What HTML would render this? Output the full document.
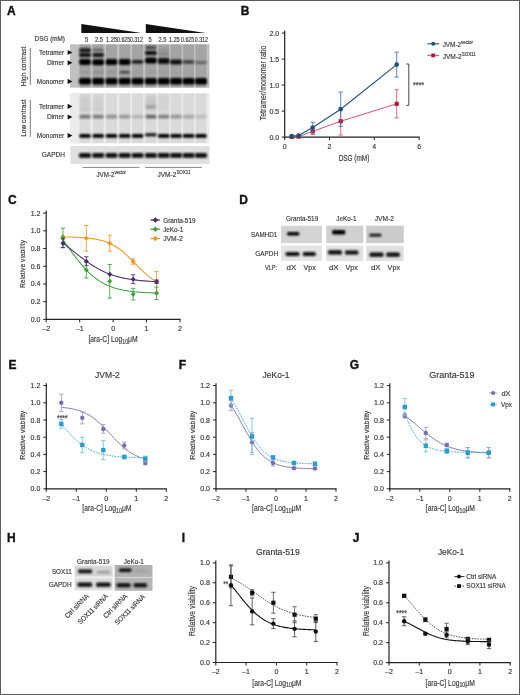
<!DOCTYPE html><html><head><meta charset="utf-8"><style>html,body{margin:0;padding:0;background:#fff;}text{stroke:#3a3a3a;stroke-width:0.16px;} svg{display:block;filter:blur(0.35px);font-family:"Liberation Sans",sans-serif;}</style></head><body><svg width="520" height="695" viewBox="0 0 520 695" font-family="Liberation Sans, sans-serif">
<defs><filter id="b" x="-30%" y="-80%" width="160%" height="260%"><feGaussianBlur stdDeviation="1.0"/></filter><filter id="b3" x="-30%" y="-10%" width="160%" height="120%"><feGaussianBlur stdDeviation="0.5"/></filter><filter id="b2" x="-30%" y="-80%" width="160%" height="260%"><feGaussianBlur stdDeviation="1.4"/></filter></defs>
<rect x="0.00" y="0.00" width="520.00" height="695.00" fill="#fff" />
<text x="6.90" y="14.60" font-size="12" font-weight="bold" fill="#111" style="stroke:#111;stroke-width:0.35px">A</text>
<text x="240.80" y="14.60" font-size="12" font-weight="bold" fill="#111" style="stroke:#111;stroke-width:0.35px">B</text>
<text x="8.10" y="203.80" font-size="12" font-weight="bold" fill="#111" style="stroke:#111;stroke-width:0.35px">C</text>
<text x="239.20" y="203.80" font-size="12" font-weight="bold" fill="#111" style="stroke:#111;stroke-width:0.35px">D</text>
<text x="8.50" y="368.80" font-size="12" font-weight="bold" fill="#111" style="stroke:#111;stroke-width:0.35px">E</text>
<text x="178.80" y="368.80" font-size="12" font-weight="bold" fill="#111" style="stroke:#111;stroke-width:0.35px">F</text>
<text x="349.80" y="368.80" font-size="12" font-weight="bold" fill="#111" style="stroke:#111;stroke-width:0.35px">G</text>
<text x="7.00" y="542.00" font-size="12" font-weight="bold" fill="#111" style="stroke:#111;stroke-width:0.35px">H</text>
<text x="181.80" y="541.80" font-size="12" font-weight="bold" fill="#111" style="stroke:#111;stroke-width:0.35px">I</text>
<text x="352.70" y="541.80" font-size="12" font-weight="bold" fill="#111" style="stroke:#111;stroke-width:0.35px">J</text>
<path d="M81.3,24 L81.3,33 L141.5,33 Z" fill="#111"/>
<path d="M145.8,24 L145.8,33 L205.7,33 Z" fill="#111"/>
<text x="34.60" y="40.90" font-size="7" fill="#383838" textLength="30.40" lengthAdjust="spacingAndGlyphs" >DSG (mM)</text>
<text x="86.60" y="41.60" font-size="6.3" fill="#383838" text-anchor="middle" textLength="3.20" lengthAdjust="spacingAndGlyphs" >5</text>
<text x="98.90" y="41.60" font-size="6.3" fill="#383838" text-anchor="middle" textLength="8.00" lengthAdjust="spacingAndGlyphs" >2.5</text>
<text x="111.60" y="41.60" font-size="6.3" fill="#383838" text-anchor="middle" textLength="11.00" lengthAdjust="spacingAndGlyphs" >1.25</text>
<text x="123.60" y="41.60" font-size="6.3" fill="#383838" text-anchor="middle" textLength="13.00" lengthAdjust="spacingAndGlyphs" >0.625</text>
<text x="136.40" y="41.60" font-size="6.3" fill="#383838" text-anchor="middle" textLength="13.00" lengthAdjust="spacingAndGlyphs" >0.312</text>
<text x="150.10" y="41.60" font-size="6.3" fill="#383838" text-anchor="middle" textLength="3.20" lengthAdjust="spacingAndGlyphs" >5</text>
<text x="162.40" y="41.60" font-size="6.3" fill="#383838" text-anchor="middle" textLength="8.00" lengthAdjust="spacingAndGlyphs" >2.5</text>
<text x="174.20" y="41.60" font-size="6.3" fill="#383838" text-anchor="middle" textLength="11.00" lengthAdjust="spacingAndGlyphs" >1.25</text>
<text x="187.60" y="41.60" font-size="6.3" fill="#383838" text-anchor="middle" textLength="13.00" lengthAdjust="spacingAndGlyphs" >0.625</text>
<text x="201.30" y="41.60" font-size="6.3" fill="#383838" text-anchor="middle" textLength="13.00" lengthAdjust="spacingAndGlyphs" >0.312</text>
<rect x="70.00" y="44.20" width="139.50" height="43.40" fill="#c0c0c0" />
<rect x="79.60" y="44.60" width="10.80" height="42.80" fill="#a4a4a4" filter="url(#b3)"/>
<rect x="92.80" y="44.60" width="10.80" height="42.80" fill="#a4a4a4" filter="url(#b3)"/>
<rect x="106.10" y="44.60" width="10.80" height="42.80" fill="#a4a4a4" filter="url(#b3)"/>
<rect x="119.30" y="44.60" width="10.80" height="42.80" fill="#a4a4a4" filter="url(#b3)"/>
<rect x="132.20" y="44.60" width="10.80" height="42.80" fill="#a4a4a4" filter="url(#b3)"/>
<rect x="145.50" y="44.60" width="10.80" height="42.80" fill="#a4a4a4" filter="url(#b3)"/>
<rect x="158.30" y="44.60" width="10.80" height="42.80" fill="#a4a4a4" filter="url(#b3)"/>
<rect x="170.70" y="44.60" width="10.80" height="42.80" fill="#a4a4a4" filter="url(#b3)"/>
<rect x="183.20" y="44.60" width="10.80" height="42.80" fill="#a4a4a4" filter="url(#b3)"/>
<rect x="195.60" y="44.60" width="10.80" height="42.80" fill="#a4a4a4" filter="url(#b3)"/>
<rect x="79.00" y="78.00" width="12.00" height="6.60" rx="2.00" fill="#050505" filter="url(#b)"/>
<rect x="92.20" y="78.00" width="12.00" height="6.60" rx="2.00" fill="#050505" filter="url(#b)"/>
<rect x="105.50" y="78.00" width="12.00" height="6.60" rx="2.00" fill="#050505" filter="url(#b)"/>
<rect x="118.70" y="78.00" width="12.00" height="6.60" rx="2.00" fill="#050505" filter="url(#b)"/>
<rect x="131.60" y="78.00" width="12.00" height="6.60" rx="2.00" fill="#050505" filter="url(#b)"/>
<rect x="144.90" y="78.00" width="12.00" height="6.60" rx="2.00" fill="#050505" filter="url(#b)"/>
<rect x="157.70" y="78.00" width="12.00" height="6.60" rx="2.00" fill="#050505" filter="url(#b)"/>
<rect x="170.10" y="78.00" width="12.00" height="6.60" rx="2.00" fill="#050505" filter="url(#b)"/>
<rect x="182.60" y="78.00" width="12.00" height="6.60" rx="2.00" fill="#050505" filter="url(#b)"/>
<rect x="195.00" y="78.00" width="12.00" height="6.60" rx="2.00" fill="#050505" filter="url(#b)"/>
<rect x="79.20" y="59.00" width="11.60" height="6.00" rx="2.00" fill="#060606" filter="url(#b)"/>
<rect x="92.40" y="59.20" width="11.60" height="6.00" rx="2.00" fill="#060606" filter="url(#b)"/>
<rect x="105.70" y="59.00" width="11.60" height="6.00" rx="2.00" fill="#060606" filter="url(#b)"/>
<rect x="118.90" y="59.00" width="11.60" height="6.00" rx="2.00" fill="#050505" filter="url(#b)"/>
<rect x="131.80" y="59.90" width="11.60" height="3.80" rx="2.00" fill="#1c1c1c" filter="url(#b)"/>
<rect x="145.10" y="57.60" width="11.60" height="6.00" rx="2.00" fill="#050505" filter="url(#b)"/>
<rect x="157.90" y="58.10" width="11.60" height="5.80" rx="2.00" fill="#080808" filter="url(#b)"/>
<rect x="170.30" y="59.50" width="11.60" height="5.00" rx="2.00" fill="#101010" filter="url(#b)"/>
<rect x="182.80" y="60.30" width="11.60" height="3.40" rx="2.00" fill="#3a3a3a" filter="url(#b)"/>
<rect x="195.20" y="61.10" width="11.60" height="2.80" rx="2.00" fill="#666" filter="url(#b)"/>
<rect x="79.40" y="48.20" width="11.20" height="4.20" rx="1.20" fill="#121212" filter="url(#b)"/>
<rect x="79.30" y="52.90" width="11.40" height="4.20" rx="1.20" fill="#0a0a0a" filter="url(#b)"/>
<rect x="92.95" y="48.50" width="10.50" height="3.00" rx="1.20" fill="#666" filter="url(#b)"/>
<rect x="92.60" y="53.00" width="11.20" height="4.00" rx="1.50" fill="#121212" filter="url(#b)"/>
<rect x="145.50" y="46.00" width="10.80" height="3.20" rx="1.20" fill="#4a4a4a" filter="url(#b)"/>
<rect x="145.20" y="51.00" width="11.40" height="4.00" rx="1.20" fill="#0a0a0a" filter="url(#b)"/>
<rect x="158.70" y="48.50" width="10.00" height="3.00" rx="1.50" fill="#909090" filter="url(#b)"/>
<rect x="158.45" y="52.50" width="10.50" height="3.00" rx="1.50" fill="#808080" filter="url(#b)"/>
<rect x="80.00" y="71.00" width="10.00" height="2.40" rx="1.20" fill="#969696" filter="url(#b)"/>
<rect x="93.20" y="71.00" width="10.00" height="2.40" rx="1.20" fill="#8a8a8a" filter="url(#b)"/>
<rect x="106.50" y="71.00" width="10.00" height="2.40" rx="1.20" fill="#939393" filter="url(#b)"/>
<rect x="119.70" y="71.00" width="10.00" height="2.40" rx="1.20" fill="#404040" filter="url(#b)"/>
<rect x="132.60" y="71.00" width="10.00" height="2.40" rx="1.20" fill="#9d9d9d" filter="url(#b)"/>
<rect x="145.90" y="71.00" width="10.00" height="2.40" rx="1.20" fill="#9a9a9a" filter="url(#b)"/>
<rect x="158.70" y="71.00" width="10.00" height="2.40" rx="1.20" fill="#9d9d9d" filter="url(#b)"/>
<rect x="171.10" y="71.00" width="10.00" height="2.40" rx="1.20" fill="#a0a0a0" filter="url(#b)"/>
<path d="M67.6,49.90 L72.4,52.50 L67.6,55.10 Z" fill="#111"/>
<text x="64.20" y="54.60" font-size="7" fill="#383838" text-anchor="end" textLength="25.20" lengthAdjust="spacingAndGlyphs" >Tetramer</text>
<path d="M67.6,60.20 L72.4,62.80 L67.6,65.40 Z" fill="#111"/>
<text x="64.20" y="64.90" font-size="7" fill="#383838" text-anchor="end" textLength="17.30" lengthAdjust="spacingAndGlyphs" >Dimer</text>
<path d="M67.6,78.80 L72.4,81.40 L67.6,84.00 Z" fill="#111"/>
<text x="64.20" y="83.50" font-size="7" fill="#383838" text-anchor="end" textLength="27.40" lengthAdjust="spacingAndGlyphs" >Monomer</text>
<line x1="30.30" y1="48.00" x2="30.30" y2="84.80" stroke="#555" stroke-width="0.8" />
<text transform="translate(25.94,66.40) rotate(-90)" x="0" y="0" font-size="7.6" fill="#383838" text-anchor="middle" textLength="39.7" lengthAdjust="spacingAndGlyphs">High contrast</text>
<rect x="70.00" y="93.00" width="139.50" height="50.50" fill="#ebebeb" />
<rect x="79.60" y="93.60" width="10.80" height="49.30" fill="#dadada" filter="url(#b3)"/>
<rect x="92.80" y="93.60" width="10.80" height="49.30" fill="#dadada" filter="url(#b3)"/>
<rect x="106.10" y="93.60" width="10.80" height="49.30" fill="#dadada" filter="url(#b3)"/>
<rect x="119.30" y="93.60" width="10.80" height="49.30" fill="#dadada" filter="url(#b3)"/>
<rect x="132.20" y="93.60" width="10.80" height="49.30" fill="#dadada" filter="url(#b3)"/>
<rect x="145.50" y="93.60" width="10.80" height="49.30" fill="#dadada" filter="url(#b3)"/>
<rect x="158.30" y="93.60" width="10.80" height="49.30" fill="#dadada" filter="url(#b3)"/>
<rect x="170.70" y="93.60" width="10.80" height="49.30" fill="#dadada" filter="url(#b3)"/>
<rect x="183.20" y="93.60" width="10.80" height="49.30" fill="#dadada" filter="url(#b3)"/>
<rect x="195.60" y="93.60" width="10.80" height="49.30" fill="#dadada" filter="url(#b3)"/>
<rect x="79.30" y="133.90" width="11.40" height="3.80" rx="1.50" fill="#060606" filter="url(#b)"/>
<rect x="92.50" y="133.90" width="11.40" height="3.80" rx="1.50" fill="#060606" filter="url(#b)"/>
<rect x="105.80" y="133.90" width="11.40" height="3.80" rx="1.50" fill="#060606" filter="url(#b)"/>
<rect x="119.00" y="133.90" width="11.40" height="3.80" rx="1.50" fill="#060606" filter="url(#b)"/>
<rect x="131.90" y="133.90" width="11.40" height="3.80" rx="1.50" fill="#060606" filter="url(#b)"/>
<rect x="145.20" y="133.30" width="11.40" height="3.00" rx="1.20" fill="#0a0a0a" filter="url(#b)"/>
<rect x="158.00" y="133.90" width="11.40" height="3.80" rx="1.50" fill="#060606" filter="url(#b)"/>
<rect x="170.40" y="133.90" width="11.40" height="3.80" rx="1.50" fill="#060606" filter="url(#b)"/>
<rect x="182.90" y="133.90" width="11.40" height="3.80" rx="1.50" fill="#060606" filter="url(#b)"/>
<rect x="195.30" y="133.90" width="11.40" height="3.80" rx="1.50" fill="#060606" filter="url(#b)"/>
<rect x="79.50" y="114.70" width="11.00" height="3.80" rx="1.50" fill="#767676" filter="url(#b)"/>
<rect x="92.70" y="114.70" width="11.00" height="3.80" rx="1.50" fill="#7a7a7a" filter="url(#b)"/>
<rect x="106.00" y="114.70" width="11.00" height="3.80" rx="1.50" fill="#929292" filter="url(#b)"/>
<rect x="119.20" y="114.70" width="11.00" height="3.80" rx="1.50" fill="#959595" filter="url(#b)"/>
<rect x="132.10" y="114.70" width="11.00" height="3.80" rx="1.50" fill="#b4b4b4" filter="url(#b)"/>
<rect x="145.40" y="114.70" width="11.00" height="3.80" rx="1.50" fill="#666666" filter="url(#b)"/>
<rect x="158.20" y="114.70" width="11.00" height="3.80" rx="1.50" fill="#7e7e7e" filter="url(#b)"/>
<rect x="170.60" y="114.70" width="11.00" height="3.80" rx="1.50" fill="#969696" filter="url(#b)"/>
<rect x="183.10" y="114.70" width="11.00" height="3.80" rx="1.50" fill="#a6a6a6" filter="url(#b)"/>
<rect x="195.50" y="114.70" width="11.00" height="3.80" rx="1.50" fill="#bdbdbd" filter="url(#b)"/>
<rect x="80.00" y="96" width="10" height="15" fill="#cdcdcd" filter="url(#b2)"/>
<rect x="93.20" y="96" width="10" height="15" fill="#d0d0d0" filter="url(#b2)"/>
<rect x="145.90" y="96" width="10" height="15" fill="#c8c8c8" filter="url(#b2)"/>
<rect x="158.70" y="96" width="10" height="15" fill="#d2d2d2" filter="url(#b2)"/>
<rect x="145.50" y="105.30" width="10.80" height="3.00" rx="1.50" fill="#9c9c9c" filter="url(#b)"/>
<rect x="145.90" y="101.40" width="10.00" height="2.20" rx="1.10" fill="#c4c4c4" filter="url(#b)"/>
<rect x="80.00" y="108.40" width="10.00" height="2.20" rx="1.10" fill="#c4c4c4" filter="url(#b)"/>
<rect x="93.20" y="108.40" width="10.00" height="2.20" rx="1.10" fill="#c8c8c8" filter="url(#b)"/>
<path d="M67.6,103.80 L72.4,106.40 L67.6,109.00 Z" fill="#111"/>
<text x="64.20" y="108.50" font-size="7" fill="#383838" text-anchor="end" textLength="25.20" lengthAdjust="spacingAndGlyphs" >Tetramer</text>
<path d="M67.6,114.40 L72.4,117.00 L67.6,119.60 Z" fill="#111"/>
<text x="64.20" y="119.10" font-size="7" fill="#383838" text-anchor="end" textLength="17.30" lengthAdjust="spacingAndGlyphs" >Dimer</text>
<path d="M67.6,133.00 L72.4,135.60 L67.6,138.20 Z" fill="#111"/>
<text x="64.20" y="137.70" font-size="7" fill="#383838" text-anchor="end" textLength="27.40" lengthAdjust="spacingAndGlyphs" >Monomer</text>
<line x1="30.30" y1="99.80" x2="30.30" y2="136.90" stroke="#555" stroke-width="0.8" />
<text transform="translate(25.94,118.10) rotate(-90)" x="0" y="0" font-size="7.6" fill="#383838" text-anchor="middle" textLength="37.5" lengthAdjust="spacingAndGlyphs">Low contrast</text>
<rect x="70.40" y="146.00" width="139.10" height="18.00" fill="#e0e0e0" />
<rect x="79.10" y="153.00" width="11.80" height="4.80" rx="1.50" fill="#070707" filter="url(#b)"/>
<rect x="92.30" y="153.00" width="11.80" height="4.80" rx="1.50" fill="#070707" filter="url(#b)"/>
<rect x="105.60" y="153.00" width="11.80" height="4.80" rx="1.50" fill="#070707" filter="url(#b)"/>
<rect x="118.80" y="153.00" width="11.80" height="4.80" rx="1.50" fill="#070707" filter="url(#b)"/>
<rect x="131.70" y="153.00" width="11.80" height="4.80" rx="1.50" fill="#070707" filter="url(#b)"/>
<rect x="145.00" y="153.00" width="11.80" height="4.80" rx="1.50" fill="#070707" filter="url(#b)"/>
<rect x="157.80" y="153.00" width="11.80" height="4.80" rx="1.50" fill="#070707" filter="url(#b)"/>
<rect x="170.20" y="153.00" width="11.80" height="4.80" rx="1.50" fill="#070707" filter="url(#b)"/>
<rect x="182.70" y="153.00" width="11.80" height="4.80" rx="1.50" fill="#070707" filter="url(#b)"/>
<rect x="195.10" y="153.00" width="11.80" height="4.80" rx="1.50" fill="#070707" filter="url(#b)"/>
<text x="41.80" y="156.80" font-size="7" fill="#383838" textLength="23.20" lengthAdjust="spacingAndGlyphs" >GAPDH</text>
<line x1="82.40" y1="167.40" x2="139.60" y2="167.40" stroke="#555" stroke-width="0.7" />
<line x1="145.10" y1="167.40" x2="201.90" y2="167.40" stroke="#555" stroke-width="0.7" />
<text x="96.5" y="177" font-size="7" fill="#383838" textLength="29.5" lengthAdjust="spacingAndGlyphs">JVM-2<tspan font-size="4.8" dy="-2.8">vector</tspan></text>
<text x="157.5" y="177" font-size="7" fill="#383838" textLength="33" lengthAdjust="spacingAndGlyphs">JVM-2<tspan font-size="4.8" dy="-2.8">SOX11</tspan></text>
<line x1="284.70" y1="30.80" x2="284.70" y2="137.70" stroke="#222" stroke-width="1.2" />
<line x1="284.10" y1="137.10" x2="419.70" y2="137.10" stroke="#222" stroke-width="1.2" />
<line x1="281.70" y1="137.10" x2="284.70" y2="137.10" stroke="#222" stroke-width="1" />
<text x="279.20" y="139.60" font-size="7" fill="#383838" text-anchor="end" >0.0</text>
<line x1="281.70" y1="111.10" x2="284.70" y2="111.10" stroke="#222" stroke-width="1" />
<text x="279.20" y="113.60" font-size="7" fill="#383838" text-anchor="end" >0.5</text>
<line x1="281.70" y1="85.10" x2="284.70" y2="85.10" stroke="#222" stroke-width="1" />
<text x="279.20" y="87.60" font-size="7" fill="#383838" text-anchor="end" >1.0</text>
<line x1="281.70" y1="59.10" x2="284.70" y2="59.10" stroke="#222" stroke-width="1" />
<text x="279.20" y="61.60" font-size="7" fill="#383838" text-anchor="end" >1.5</text>
<line x1="281.70" y1="33.10" x2="284.70" y2="33.10" stroke="#222" stroke-width="1" />
<text x="279.20" y="35.60" font-size="7" fill="#383838" text-anchor="end" >2.0</text>
<line x1="284.70" y1="137.10" x2="284.70" y2="140.10" stroke="#222" stroke-width="1" />
<text x="284.70" y="149.30" font-size="7" fill="#383838" text-anchor="middle" >0</text>
<line x1="329.50" y1="137.10" x2="329.50" y2="140.10" stroke="#222" stroke-width="1" />
<text x="329.50" y="149.30" font-size="7" fill="#383838" text-anchor="middle" >2</text>
<line x1="374.30" y1="137.10" x2="374.30" y2="140.10" stroke="#222" stroke-width="1" />
<text x="374.30" y="149.30" font-size="7" fill="#383838" text-anchor="middle" >4</text>
<line x1="419.10" y1="137.10" x2="419.10" y2="140.10" stroke="#222" stroke-width="1" />
<text x="419.10" y="149.30" font-size="7" fill="#383838" text-anchor="middle" >6</text>
<text transform="translate(265.85,83.00) rotate(-90)" x="0" y="0" font-size="8.2" fill="#383838" text-anchor="middle" textLength="74.5" lengthAdjust="spacingAndGlyphs">Tetramer/monomer ratio</text>
<text x="354.00" y="160.60" font-size="8.2" fill="#383838" text-anchor="middle" textLength="30.70" lengthAdjust="spacingAndGlyphs" >DSG (mM)</text>
<polyline points="291.70,136.84 298.70,136.58 312.70,131.38 340.70,121.24 396.70,103.82" fill="none" stroke="#d9536f" stroke-width="1"/>
<polyline points="291.70,136.06 298.70,135.54 312.70,127.48 340.70,109.18 396.70,64.61" fill="none" stroke="#1f4f82" stroke-width="1.1"/>
<rect x="289.60" y="134.74" width="4.20" height="4.20" fill="#b5173c"/>
<rect x="296.60" y="134.48" width="4.20" height="4.20" fill="#b5173c"/>
<line x1="312.70" y1="128.26" x2="312.70" y2="134.50" stroke="#d9536f" stroke-width="0.85" />
<line x1="310.50" y1="128.26" x2="314.90" y2="128.26" stroke="#d9536f" stroke-width="0.85" />
<line x1="310.50" y1="134.50" x2="314.90" y2="134.50" stroke="#d9536f" stroke-width="0.85" />
<rect x="310.60" y="129.28" width="4.20" height="4.20" fill="#b5173c"/>
<line x1="340.70" y1="107.46" x2="340.70" y2="135.02" stroke="#d9536f" stroke-width="0.85" />
<line x1="338.50" y1="107.46" x2="342.90" y2="107.46" stroke="#d9536f" stroke-width="0.85" />
<line x1="338.50" y1="135.02" x2="342.90" y2="135.02" stroke="#d9536f" stroke-width="0.85" />
<rect x="338.60" y="119.14" width="4.20" height="4.20" fill="#b5173c"/>
<line x1="396.70" y1="89.78" x2="396.70" y2="117.86" stroke="#d9536f" stroke-width="0.85" />
<line x1="394.50" y1="89.78" x2="398.90" y2="89.78" stroke="#d9536f" stroke-width="0.85" />
<line x1="394.50" y1="117.86" x2="398.90" y2="117.86" stroke="#d9536f" stroke-width="0.85" />
<rect x="394.60" y="101.72" width="4.20" height="4.20" fill="#b5173c"/>
<circle cx="291.70" cy="136.06" r="2.3" fill="#1f4f82"/>
<circle cx="298.70" cy="135.54" r="2.3" fill="#1f4f82"/>
<line x1="312.70" y1="122.28" x2="312.70" y2="132.68" stroke="#4a74a0" stroke-width="0.85" />
<line x1="310.50" y1="122.28" x2="314.90" y2="122.28" stroke="#4a74a0" stroke-width="0.85" />
<line x1="310.50" y1="132.68" x2="314.90" y2="132.68" stroke="#4a74a0" stroke-width="0.85" />
<circle cx="312.70" cy="127.48" r="2.3" fill="#1f4f82"/>
<line x1="340.70" y1="92.02" x2="340.70" y2="126.34" stroke="#4a74a0" stroke-width="0.85" />
<line x1="338.50" y1="92.02" x2="342.90" y2="92.02" stroke="#4a74a0" stroke-width="0.85" />
<line x1="338.50" y1="126.34" x2="342.90" y2="126.34" stroke="#4a74a0" stroke-width="0.85" />
<circle cx="340.70" cy="109.18" r="2.3" fill="#1f4f82"/>
<line x1="396.70" y1="52.13" x2="396.70" y2="77.09" stroke="#4a74a0" stroke-width="0.85" />
<line x1="394.50" y1="52.13" x2="398.90" y2="52.13" stroke="#4a74a0" stroke-width="0.85" />
<line x1="394.50" y1="77.09" x2="398.90" y2="77.09" stroke="#4a74a0" stroke-width="0.85" />
<circle cx="396.70" cy="64.61" r="2.3" fill="#1f4f82"/>
<path d="M406.3,64 L408.8,64 L408.8,105.4 L406.3,105.4" fill="none" stroke="#333" stroke-width="0.9"/>
<text x="413.00" y="88.40" font-size="9.5" fill="#383838" textLength="11.00" lengthAdjust="spacingAndGlyphs" >****</text>
<line x1="427.30" y1="43.80" x2="439.20" y2="43.80" stroke="#1f4f82" stroke-width="1.1" />
<circle cx="433.20" cy="43.80" r="2" fill="#1f4f82"/>
<line x1="427.30" y1="55.40" x2="439.20" y2="55.40" stroke="#d9536f" stroke-width="1.1" />
<rect x="431.30" y="53.50" width="3.80" height="3.80" fill="#b5173c"/>
<text x="442.7" y="46.9" font-size="7" fill="#383838" textLength="30.2" lengthAdjust="spacingAndGlyphs">JVM-2<tspan font-size="4.8" dy="-2.8">vector</tspan></text>
<text x="442.7" y="58.5" font-size="7" fill="#383838" textLength="33.1" lengthAdjust="spacingAndGlyphs">JVM-2<tspan font-size="4.8" dy="-2.8">SOX11</tspan></text>
<line x1="46.20" y1="210.78" x2="46.20" y2="320.00" stroke="#222" stroke-width="1.2" />
<line x1="45.60" y1="319.40" x2="180.60" y2="319.40" stroke="#222" stroke-width="1.2" />
<line x1="43.20" y1="319.40" x2="46.20" y2="319.40" stroke="#222" stroke-width="1" />
<text x="40.40" y="321.90" font-size="7" fill="#383838" text-anchor="end" >0.0</text>
<line x1="43.20" y1="301.68" x2="46.20" y2="301.68" stroke="#222" stroke-width="1" />
<text x="40.40" y="304.18" font-size="7" fill="#383838" text-anchor="end" >0.2</text>
<line x1="43.20" y1="283.96" x2="46.20" y2="283.96" stroke="#222" stroke-width="1" />
<text x="40.40" y="286.46" font-size="7" fill="#383838" text-anchor="end" >0.4</text>
<line x1="43.20" y1="266.24" x2="46.20" y2="266.24" stroke="#222" stroke-width="1" />
<text x="40.40" y="268.74" font-size="7" fill="#383838" text-anchor="end" >0.6</text>
<line x1="43.20" y1="248.52" x2="46.20" y2="248.52" stroke="#222" stroke-width="1" />
<text x="40.40" y="251.02" font-size="7" fill="#383838" text-anchor="end" >0.8</text>
<line x1="43.20" y1="230.80" x2="46.20" y2="230.80" stroke="#222" stroke-width="1" />
<text x="40.40" y="233.30" font-size="7" fill="#383838" text-anchor="end" >1.0</text>
<line x1="43.20" y1="213.08" x2="46.20" y2="213.08" stroke="#222" stroke-width="1" />
<text x="40.40" y="215.58" font-size="7" fill="#383838" text-anchor="end" >1.2</text>
<line x1="46.20" y1="319.40" x2="46.20" y2="322.40" stroke="#222" stroke-width="1" />
<text x="46.20" y="331.30" font-size="7" fill="#383838" text-anchor="middle" >–2</text>
<line x1="79.65" y1="319.40" x2="79.65" y2="322.40" stroke="#222" stroke-width="1" />
<text x="79.65" y="331.30" font-size="7" fill="#383838" text-anchor="middle" >–1</text>
<line x1="113.10" y1="319.40" x2="113.10" y2="322.40" stroke="#222" stroke-width="1" />
<text x="113.10" y="331.30" font-size="7" fill="#383838" text-anchor="middle" >0</text>
<line x1="146.55" y1="319.40" x2="146.55" y2="322.40" stroke="#222" stroke-width="1" />
<text x="146.55" y="331.30" font-size="7" fill="#383838" text-anchor="middle" >1</text>
<line x1="180.00" y1="319.40" x2="180.00" y2="322.40" stroke="#222" stroke-width="1" />
<text x="180.00" y="331.30" font-size="7" fill="#383838" text-anchor="middle" >2</text>
<text transform="translate(25.17,264.00) rotate(-90)" x="0" y="0" font-size="7.7" fill="#383838" text-anchor="middle" textLength="48" lengthAdjust="spacingAndGlyphs">Relative viability</text>
<text x="113.00" y="342.20" font-size="8.3" fill="#383838" text-anchor="middle" textLength="49.2" lengthAdjust="spacingAndGlyphs">[ara-C] Log<tspan font-size="6.47" dy="1.6">10</tspan><tspan dy="-1.6">μM</tspan></text>
<polyline points="62.93,236.85 64.49,236.88 66.05,236.91 67.61,236.95 69.17,236.99 70.73,237.03 72.29,237.08 73.85,237.13 75.41,237.19 76.97,237.26 78.54,237.34 80.10,237.43 81.66,237.53 83.22,237.64 84.78,237.76 86.34,237.90 87.90,238.05 89.46,238.23 91.02,238.42 92.58,238.64 94.15,238.88 95.71,239.15 97.27,239.45 98.83,239.79 100.39,240.16 101.95,240.58 103.51,241.03 105.07,241.54 106.63,242.10 108.19,242.71 109.75,243.38 111.32,244.12 112.88,244.92 114.44,245.79 116.00,246.73 117.56,247.74 119.12,248.83 120.68,249.99 122.24,251.22 123.80,252.52 125.37,253.89 126.93,255.32 128.49,256.80 130.05,258.32 131.61,259.88 133.17,261.47 134.73,263.07 136.29,264.68 137.85,266.28 139.41,267.86 140.98,269.41 142.54,270.92 144.10,272.39 145.66,273.80 147.22,275.14 148.78,276.42 150.34,277.63 151.90,278.77 153.46,279.83 155.02,280.82 156.59,281.74" fill="none" stroke="#f0962a" stroke-width="1.05"/>
<polyline points="62.93,239.66 64.49,241.83 66.05,244.01 67.61,246.20 69.17,248.39 70.73,250.57 72.29,252.72 73.85,254.85 75.41,256.94 76.97,258.99 78.54,260.99 80.10,262.93 81.66,264.80 83.22,266.61 84.78,268.35 86.34,270.01 87.90,271.60 89.46,273.11 91.02,274.55 92.58,275.90 94.15,277.18 95.71,278.39 97.27,279.52 98.83,280.58 100.39,281.58 101.95,282.50 103.51,283.37 105.07,284.17 106.63,284.92 108.19,285.61 109.75,286.25 111.32,286.85 112.88,287.39 114.44,287.90 116.00,288.37 117.56,288.80 119.12,289.20 120.68,289.56 122.24,289.90 123.80,290.20 125.37,290.49 126.93,290.75 128.49,290.98 130.05,291.20 131.61,291.40 133.17,291.59 134.73,291.75 136.29,291.91 137.85,292.05 139.41,292.18 140.98,292.29 142.54,292.40 144.10,292.50 145.66,292.59 147.22,292.67 148.78,292.75 150.34,292.82 151.90,292.88 153.46,292.94 155.02,292.99 156.59,293.04" fill="none" stroke="#3f9f3f" stroke-width="1.05"/>
<polyline points="62.93,243.20 64.49,244.35 66.05,245.53 67.61,246.73 69.17,247.94 70.73,249.17 72.29,250.40 73.85,251.64 75.41,252.88 76.97,254.11 78.54,255.34 80.10,256.55 81.66,257.75 83.22,258.93 84.78,260.09 86.34,261.23 87.90,262.33 89.46,263.41 91.02,264.45 92.58,265.46 94.15,266.43 95.71,267.37 97.27,268.27 98.83,269.13 100.39,269.95 101.95,270.74 103.51,271.48 105.07,272.19 106.63,272.86 108.19,273.50 109.75,274.10 111.32,274.67 112.88,275.20 114.44,275.70 116.00,276.17 117.56,276.62 119.12,277.03 120.68,277.42 122.24,277.78 123.80,278.12 125.37,278.43 126.93,278.73 128.49,279.00 130.05,279.26 131.61,279.50 133.17,279.72 134.73,279.93 136.29,280.12 137.85,280.29 139.41,280.46 140.98,280.61 142.54,280.75 144.10,280.88 145.66,281.01 147.22,281.12 148.78,281.22 150.34,281.32 151.90,281.41 153.46,281.49 155.02,281.57 156.59,281.64" fill="none" stroke="#4a2a6a" stroke-width="1.05"/>
<line x1="86.34" y1="225.48" x2="86.34" y2="251.18" stroke="#f0962a" stroke-width="0.85" />
<line x1="84.14" y1="225.48" x2="88.54" y2="225.48" stroke="#f0962a" stroke-width="0.85" />
<line x1="84.14" y1="251.18" x2="88.54" y2="251.18" stroke="#f0962a" stroke-width="0.85" />
<line x1="109.75" y1="235.23" x2="109.75" y2="251.18" stroke="#f0962a" stroke-width="0.85" />
<line x1="107.55" y1="235.23" x2="111.95" y2="235.23" stroke="#f0962a" stroke-width="0.85" />
<line x1="107.55" y1="251.18" x2="111.95" y2="251.18" stroke="#f0962a" stroke-width="0.85" />
<line x1="133.17" y1="258.89" x2="133.17" y2="264.20" stroke="#f0962a" stroke-width="0.85" />
<line x1="130.97" y1="258.89" x2="135.37" y2="258.89" stroke="#f0962a" stroke-width="0.85" />
<line x1="130.97" y1="264.20" x2="135.37" y2="264.20" stroke="#f0962a" stroke-width="0.85" />
<line x1="156.59" y1="271.56" x2="156.59" y2="291.93" stroke="#f0962a" stroke-width="0.85" />
<line x1="154.39" y1="271.56" x2="158.78" y2="271.56" stroke="#f0962a" stroke-width="0.85" />
<line x1="154.39" y1="291.93" x2="158.78" y2="291.93" stroke="#f0962a" stroke-width="0.85" />
<path d="M62.93,234.06 L65.43,236.56 L62.93,239.06 L60.43,236.56Z" fill="#f0962a"/>
<path d="M86.34,235.83 L88.84,238.33 L86.34,240.83 L83.84,238.33Z" fill="#f0962a"/>
<path d="M109.75,240.70 L112.25,243.20 L109.75,245.70 L107.25,243.20Z" fill="#f0962a"/>
<path d="M133.17,259.04 L135.67,261.54 L133.17,264.04 L130.67,261.54Z" fill="#f0962a"/>
<path d="M156.59,279.25 L159.09,281.75 L156.59,284.25 L154.09,281.75Z" fill="#f0962a"/>
<line x1="62.93" y1="228.14" x2="62.93" y2="247.63" stroke="#3f9f3f" stroke-width="0.85" />
<line x1="60.73" y1="228.14" x2="65.12" y2="228.14" stroke="#3f9f3f" stroke-width="0.85" />
<line x1="60.73" y1="247.63" x2="65.12" y2="247.63" stroke="#3f9f3f" stroke-width="0.85" />
<line x1="86.34" y1="262.08" x2="86.34" y2="278.02" stroke="#3f9f3f" stroke-width="0.85" />
<line x1="84.14" y1="262.08" x2="88.54" y2="262.08" stroke="#3f9f3f" stroke-width="0.85" />
<line x1="84.14" y1="278.02" x2="88.54" y2="278.02" stroke="#3f9f3f" stroke-width="0.85" />
<line x1="109.75" y1="264.47" x2="109.75" y2="298.14" stroke="#3f9f3f" stroke-width="0.85" />
<line x1="107.55" y1="264.47" x2="111.95" y2="264.47" stroke="#3f9f3f" stroke-width="0.85" />
<line x1="107.55" y1="298.14" x2="111.95" y2="298.14" stroke="#3f9f3f" stroke-width="0.85" />
<line x1="133.17" y1="288.39" x2="133.17" y2="299.91" stroke="#3f9f3f" stroke-width="0.85" />
<line x1="130.97" y1="288.39" x2="135.37" y2="288.39" stroke="#3f9f3f" stroke-width="0.85" />
<line x1="130.97" y1="299.91" x2="135.37" y2="299.91" stroke="#3f9f3f" stroke-width="0.85" />
<line x1="156.59" y1="287.06" x2="156.59" y2="299.46" stroke="#3f9f3f" stroke-width="0.85" />
<line x1="154.39" y1="287.06" x2="158.78" y2="287.06" stroke="#3f9f3f" stroke-width="0.85" />
<line x1="154.39" y1="299.46" x2="158.78" y2="299.46" stroke="#3f9f3f" stroke-width="0.85" />
<path d="M62.93,235.39 L65.43,237.89 L62.93,240.39 L60.43,237.89Z" fill="#3f9f3f"/>
<path d="M86.34,267.55 L88.84,270.05 L86.34,272.55 L83.84,270.05Z" fill="#3f9f3f"/>
<path d="M109.75,278.80 L112.25,281.30 L109.75,283.80 L107.25,281.30Z" fill="#3f9f3f"/>
<path d="M133.17,291.65 L135.67,294.15 L133.17,296.65 L130.67,294.15Z" fill="#3f9f3f"/>
<path d="M156.59,290.76 L159.09,293.26 L156.59,295.76 L154.09,293.26Z" fill="#3f9f3f"/>
<line x1="62.93" y1="238.77" x2="62.93" y2="247.63" stroke="#4a2a6a" stroke-width="0.85" />
<line x1="60.73" y1="238.77" x2="65.12" y2="238.77" stroke="#4a2a6a" stroke-width="0.85" />
<line x1="60.73" y1="247.63" x2="65.12" y2="247.63" stroke="#4a2a6a" stroke-width="0.85" />
<line x1="86.34" y1="256.76" x2="86.34" y2="265.62" stroke="#4a2a6a" stroke-width="0.85" />
<line x1="84.14" y1="256.76" x2="88.54" y2="256.76" stroke="#4a2a6a" stroke-width="0.85" />
<line x1="84.14" y1="265.62" x2="88.54" y2="265.62" stroke="#4a2a6a" stroke-width="0.85" />
<line x1="133.17" y1="274.75" x2="133.17" y2="283.61" stroke="#4a2a6a" stroke-width="0.85" />
<line x1="130.97" y1="274.75" x2="135.37" y2="274.75" stroke="#4a2a6a" stroke-width="0.85" />
<line x1="130.97" y1="283.61" x2="135.37" y2="283.61" stroke="#4a2a6a" stroke-width="0.85" />
<line x1="156.59" y1="279.97" x2="156.59" y2="283.52" stroke="#4a2a6a" stroke-width="0.85" />
<line x1="154.39" y1="279.97" x2="158.78" y2="279.97" stroke="#4a2a6a" stroke-width="0.85" />
<line x1="154.39" y1="283.52" x2="158.78" y2="283.52" stroke="#4a2a6a" stroke-width="0.85" />
<path d="M62.93,240.70 L65.43,243.20 L62.93,245.70 L60.43,243.20Z" fill="#4a2a6a"/>
<path d="M86.34,258.69 L88.84,261.19 L86.34,263.69 L83.84,261.19Z" fill="#4a2a6a"/>
<path d="M109.75,271.71 L112.25,274.21 L109.75,276.71 L107.25,274.21Z" fill="#4a2a6a"/>
<path d="M133.17,276.68 L135.67,279.18 L133.17,281.68 L130.67,279.18Z" fill="#4a2a6a"/>
<path d="M156.59,279.25 L159.09,281.75 L156.59,284.25 L154.09,281.75Z" fill="#4a2a6a"/>
<line x1="150.40" y1="220.00" x2="160.10" y2="220.00" stroke="#4a2a6a" stroke-width="1.2" />
<path d="M155.30,217.25 L158.05,220.00 L155.30,222.75 L152.55,220.00Z" fill="#4a2a6a"/>
<text x="163.20" y="222.50" font-size="7" fill="#383838" textLength="32.30" lengthAdjust="spacingAndGlyphs" >Granta-519</text>
<line x1="150.40" y1="229.20" x2="160.10" y2="229.20" stroke="#3f9f3f" stroke-width="1.2" />
<path d="M155.30,226.45 L158.05,229.20 L155.30,231.95 L152.55,229.20Z" fill="#3f9f3f"/>
<text x="163.20" y="231.70" font-size="7" fill="#383838" textLength="20.00" lengthAdjust="spacingAndGlyphs" >JeKo-1</text>
<line x1="150.40" y1="238.50" x2="160.10" y2="238.50" stroke="#f0962a" stroke-width="1.2" />
<path d="M155.30,235.75 L158.05,238.50 L155.30,241.25 L152.55,238.50Z" fill="#f0962a"/>
<text x="163.20" y="241.00" font-size="7" fill="#383838" textLength="19.50" lengthAdjust="spacingAndGlyphs" >JVM-2</text>
<rect x="281.00" y="225.70" width="40.90" height="17.50" fill="#d4d4d4" />
<rect x="281.00" y="245.60" width="40.90" height="15.40" fill="#e4e4e4" />
<text x="286.00" y="220.60" font-size="7.6" fill="#383838" textLength="32.20" lengthAdjust="spacingAndGlyphs" >Granta-519</text>
<rect x="285.60" y="251.90" width="13.80" height="4.20" rx="1.50" fill="#080808" filter="url(#b)"/>
<rect x="302.90" y="251.90" width="12.80" height="4.20" rx="1.50" fill="#080808" filter="url(#b)"/>
<rect x="287.20" y="232.10" width="12.00" height="3.40" rx="1.20" fill="#050505" filter="url(#b)"/>
<rect x="326.20" y="225.70" width="37.10" height="17.50" fill="#d0d0d0" />
<rect x="326.20" y="245.60" width="37.10" height="15.40" fill="#e2e2e2" />
<text x="336.30" y="220.60" font-size="7.6" fill="#383838" textLength="20.20" lengthAdjust="spacingAndGlyphs" >JeKo-1</text>
<rect x="328.00" y="250.20" width="14.00" height="4.20" rx="1.50" fill="#080808" filter="url(#b)"/>
<rect x="344.95" y="250.40" width="13.50" height="4.20" rx="1.50" fill="#080808" filter="url(#b)"/>
<rect x="332.20" y="230.00" width="13.00" height="4.40" rx="1.20" fill="#030303" filter="url(#b)"/>
<rect x="366.20" y="225.70" width="37.50" height="17.50" fill="#cbcbcb" />
<rect x="366.20" y="245.60" width="37.50" height="15.40" fill="#e0e0e0" />
<text x="374.80" y="220.60" font-size="7.6" fill="#383838" textLength="19.20" lengthAdjust="spacingAndGlyphs" >JVM-2</text>
<rect x="369.50" y="252.50" width="14.00" height="4.20" rx="1.50" fill="#080808" filter="url(#b)"/>
<rect x="386.25" y="252.50" width="13.50" height="4.20" rx="1.50" fill="#080808" filter="url(#b)"/>
<rect x="369.40" y="233.80" width="12.00" height="2.80" rx="1.20" fill="#0a0a0a" filter="url(#b)"/>
<text x="251.10" y="236.50" font-size="7" fill="#383838" textLength="26.30" lengthAdjust="spacingAndGlyphs" >SAMHD1</text>
<text x="255.30" y="255.70" font-size="7" fill="#383838" textLength="22.80" lengthAdjust="spacingAndGlyphs" >GAPDH</text>
<text x="264.90" y="270.20" font-size="7" fill="#383838" textLength="12.10" lengthAdjust="spacingAndGlyphs" >VLP:</text>
<text x="291.40" y="270.20" font-size="7.5" fill="#383838" text-anchor="middle" textLength="9.60" lengthAdjust="spacingAndGlyphs" >dX</text>
<text x="333.80" y="270.20" font-size="7.5" fill="#383838" text-anchor="middle" textLength="9.60" lengthAdjust="spacingAndGlyphs" >dX</text>
<text x="375.80" y="270.20" font-size="7.5" fill="#383838" text-anchor="middle" textLength="9.60" lengthAdjust="spacingAndGlyphs" >dX</text>
<text x="309.60" y="270.20" font-size="7.5" fill="#383838" text-anchor="middle" textLength="12.40" lengthAdjust="spacingAndGlyphs" >Vpx</text>
<text x="351.60" y="270.20" font-size="7.5" fill="#383838" text-anchor="middle" textLength="12.40" lengthAdjust="spacingAndGlyphs" >Vpx</text>
<text x="393.80" y="270.20" font-size="7.5" fill="#383838" text-anchor="middle" textLength="12.40" lengthAdjust="spacingAndGlyphs" >Vpx</text>
<line x1="46.30" y1="383.30" x2="46.30" y2="489.40" stroke="#222" stroke-width="1.2" />
<line x1="45.70" y1="488.80" x2="166.90" y2="488.80" stroke="#222" stroke-width="1.2" />
<line x1="43.30" y1="488.80" x2="46.30" y2="488.80" stroke="#222" stroke-width="1" />
<text x="40.30" y="491.30" font-size="7" fill="#383838" text-anchor="end" >0.0</text>
<line x1="43.30" y1="471.60" x2="46.30" y2="471.60" stroke="#222" stroke-width="1" />
<text x="40.30" y="474.10" font-size="7" fill="#383838" text-anchor="end" >0.2</text>
<line x1="43.30" y1="454.40" x2="46.30" y2="454.40" stroke="#222" stroke-width="1" />
<text x="40.30" y="456.90" font-size="7" fill="#383838" text-anchor="end" >0.4</text>
<line x1="43.30" y1="437.20" x2="46.30" y2="437.20" stroke="#222" stroke-width="1" />
<text x="40.30" y="439.70" font-size="7" fill="#383838" text-anchor="end" >0.6</text>
<line x1="43.30" y1="420.00" x2="46.30" y2="420.00" stroke="#222" stroke-width="1" />
<text x="40.30" y="422.50" font-size="7" fill="#383838" text-anchor="end" >0.8</text>
<line x1="43.30" y1="402.80" x2="46.30" y2="402.80" stroke="#222" stroke-width="1" />
<text x="40.30" y="405.30" font-size="7" fill="#383838" text-anchor="end" >1.0</text>
<line x1="43.30" y1="385.60" x2="46.30" y2="385.60" stroke="#222" stroke-width="1" />
<text x="40.30" y="388.10" font-size="7" fill="#383838" text-anchor="end" >1.2</text>
<line x1="46.30" y1="488.80" x2="46.30" y2="491.80" stroke="#222" stroke-width="1" />
<text x="46.30" y="500.60" font-size="7" fill="#383838" text-anchor="middle" >–2</text>
<line x1="76.30" y1="488.80" x2="76.30" y2="491.80" stroke="#222" stroke-width="1" />
<text x="76.30" y="500.60" font-size="7" fill="#383838" text-anchor="middle" >–1</text>
<line x1="106.30" y1="488.80" x2="106.30" y2="491.80" stroke="#222" stroke-width="1" />
<text x="106.30" y="500.60" font-size="7" fill="#383838" text-anchor="middle" >0</text>
<line x1="136.30" y1="488.80" x2="136.30" y2="491.80" stroke="#222" stroke-width="1" />
<text x="136.30" y="500.60" font-size="7" fill="#383838" text-anchor="middle" >1</text>
<line x1="166.30" y1="488.80" x2="166.30" y2="491.80" stroke="#222" stroke-width="1" />
<text x="166.30" y="500.60" font-size="7" fill="#383838" text-anchor="middle" >2</text>
<text transform="translate(25.27,435.20) rotate(-90)" x="0" y="0" font-size="7.7" fill="#383838" text-anchor="middle" textLength="49" lengthAdjust="spacingAndGlyphs">Relative viability</text>
<text x="95.10" y="378.10" font-size="8.5" fill="#383838" textLength="24.70" lengthAdjust="spacingAndGlyphs" >JVM-2</text>
<text x="106.90" y="511.00" font-size="8.3" fill="#383838" text-anchor="middle" textLength="49.2" lengthAdjust="spacingAndGlyphs">[ara-C] Log<tspan font-size="6.47" dy="1.6">10</tspan><tspan dy="-1.6">μM</tspan></text>
<polyline points="61.30,407.29 62.70,407.43 64.10,407.59 65.50,407.76 66.90,407.94 68.30,408.15 69.70,408.38 71.10,408.64 72.50,408.92 73.90,409.23 75.30,409.57 76.70,409.94 78.10,410.35 79.50,410.80 80.90,411.29 82.30,411.83 83.70,412.41 85.10,413.05 86.50,413.74 87.90,414.48 89.30,415.28 90.70,416.15 92.10,417.07 93.50,418.06 94.90,419.12 96.30,420.23 97.70,421.41 99.10,422.64 100.50,423.93 101.90,425.28 103.30,426.67 104.70,428.10 106.10,429.57 107.50,431.06 108.90,432.58 110.30,434.10 111.70,435.62 113.10,437.14 114.50,438.64 115.90,440.12 117.30,441.56 118.70,442.96 120.10,444.32 121.50,445.63 122.90,446.89 124.30,448.08 125.70,449.22 127.10,450.29 128.50,451.30 129.90,452.24 131.30,453.13 132.70,453.95 134.10,454.71 135.50,455.42 136.90,456.07 138.30,456.67 139.70,457.22 141.10,457.72 142.50,458.19 143.90,458.61 145.30,458.99" fill="none" stroke="#8878b4" stroke-width="1.0"/>
<polyline points="61.30,424.23 62.70,425.81 64.10,427.39 65.50,428.97 66.90,430.53 68.30,432.07 69.70,433.58 71.10,435.06 72.50,436.49 73.90,437.88 75.30,439.22 76.70,440.51 78.10,441.73 79.50,442.90 80.90,444.01 82.30,445.06 83.70,446.05 85.10,446.98 86.50,447.85 87.90,448.66 89.30,449.41 90.70,450.12 92.10,450.77 93.50,451.37 94.90,451.93 96.30,452.44 97.70,452.91 99.10,453.35 100.50,453.75 101.90,454.11 103.30,454.45 104.70,454.75 106.10,455.03 107.50,455.29 108.90,455.52 110.30,455.74 111.70,455.93 113.10,456.11 114.50,456.27 115.90,456.41 117.30,456.54 118.70,456.67 120.10,456.77 121.50,456.87 122.90,456.96 124.30,457.05 125.70,457.12 127.10,457.19 128.50,457.25 129.90,457.31 131.30,457.36 132.70,457.40 134.10,457.44 135.50,457.48 136.90,457.51 138.30,457.54 139.70,457.57 141.10,457.60 142.50,457.62 143.90,457.64 145.30,457.66" fill="none" stroke="#33a9dc" stroke-width="1.0" stroke-dasharray="1.6,1.2"/>
<line x1="61.30" y1="394.20" x2="61.30" y2="411.40" stroke="#a097c6" stroke-width="0.85" />
<line x1="59.10" y1="394.20" x2="63.50" y2="394.20" stroke="#a097c6" stroke-width="0.85" />
<line x1="59.10" y1="411.40" x2="63.50" y2="411.40" stroke="#a097c6" stroke-width="0.85" />
<line x1="82.30" y1="411.83" x2="82.30" y2="423.87" stroke="#a097c6" stroke-width="0.85" />
<line x1="80.10" y1="411.83" x2="84.50" y2="411.83" stroke="#a097c6" stroke-width="0.85" />
<line x1="80.10" y1="423.87" x2="84.50" y2="423.87" stroke="#a097c6" stroke-width="0.85" />
<line x1="103.30" y1="424.64" x2="103.30" y2="433.24" stroke="#a097c6" stroke-width="0.85" />
<line x1="101.10" y1="424.64" x2="105.50" y2="424.64" stroke="#a097c6" stroke-width="0.85" />
<line x1="101.10" y1="433.24" x2="105.50" y2="433.24" stroke="#a097c6" stroke-width="0.85" />
<line x1="124.30" y1="442.02" x2="124.30" y2="448.90" stroke="#a097c6" stroke-width="0.85" />
<line x1="122.10" y1="442.02" x2="126.50" y2="442.02" stroke="#a097c6" stroke-width="0.85" />
<line x1="122.10" y1="448.90" x2="126.50" y2="448.90" stroke="#a097c6" stroke-width="0.85" />
<line x1="145.30" y1="461.28" x2="145.30" y2="464.72" stroke="#a097c6" stroke-width="0.85" />
<line x1="143.10" y1="461.28" x2="147.50" y2="461.28" stroke="#a097c6" stroke-width="0.85" />
<line x1="143.10" y1="464.72" x2="147.50" y2="464.72" stroke="#a097c6" stroke-width="0.85" />
<circle cx="61.30" cy="402.80" r="2.2" fill="#7c6eab"/>
<circle cx="82.30" cy="417.85" r="2.2" fill="#7c6eab"/>
<circle cx="103.30" cy="428.94" r="2.2" fill="#7c6eab"/>
<circle cx="124.30" cy="445.46" r="2.2" fill="#7c6eab"/>
<circle cx="145.30" cy="463.00" r="2.2" fill="#7c6eab"/>
<line x1="61.30" y1="419.57" x2="61.30" y2="428.17" stroke="#6cc0e6" stroke-width="0.85" />
<line x1="59.10" y1="419.57" x2="63.50" y2="419.57" stroke="#6cc0e6" stroke-width="0.85" />
<line x1="59.10" y1="428.17" x2="63.50" y2="428.17" stroke="#6cc0e6" stroke-width="0.85" />
<line x1="82.30" y1="437.20" x2="82.30" y2="452.68" stroke="#6cc0e6" stroke-width="0.85" />
<line x1="80.10" y1="437.20" x2="84.50" y2="437.20" stroke="#6cc0e6" stroke-width="0.85" />
<line x1="80.10" y1="452.68" x2="84.50" y2="452.68" stroke="#6cc0e6" stroke-width="0.85" />
<line x1="103.30" y1="440.64" x2="103.30" y2="459.56" stroke="#6cc0e6" stroke-width="0.85" />
<line x1="101.10" y1="440.64" x2="105.50" y2="440.64" stroke="#6cc0e6" stroke-width="0.85" />
<line x1="101.10" y1="459.56" x2="105.50" y2="459.56" stroke="#6cc0e6" stroke-width="0.85" />
<line x1="124.30" y1="455.26" x2="124.30" y2="458.70" stroke="#6cc0e6" stroke-width="0.85" />
<line x1="122.10" y1="455.26" x2="126.50" y2="455.26" stroke="#6cc0e6" stroke-width="0.85" />
<line x1="122.10" y1="458.70" x2="126.50" y2="458.70" stroke="#6cc0e6" stroke-width="0.85" />
<line x1="145.30" y1="456.12" x2="145.30" y2="461.28" stroke="#6cc0e6" stroke-width="0.85" />
<line x1="143.10" y1="456.12" x2="147.50" y2="456.12" stroke="#6cc0e6" stroke-width="0.85" />
<line x1="143.10" y1="461.28" x2="147.50" y2="461.28" stroke="#6cc0e6" stroke-width="0.85" />
<rect x="59.10" y="421.67" width="4.40" height="4.40" fill="#2c9ccf"/>
<rect x="80.10" y="442.74" width="4.40" height="4.40" fill="#2c9ccf"/>
<rect x="101.10" y="447.90" width="4.40" height="4.40" fill="#2c9ccf"/>
<rect x="122.10" y="454.78" width="4.40" height="4.40" fill="#2c9ccf"/>
<rect x="143.10" y="456.50" width="4.40" height="4.40" fill="#2c9ccf"/>
<text x="57.00" y="421.00" font-size="9.5" fill="#383838" textLength="10.60" lengthAdjust="spacingAndGlyphs" >****</text>
<line x1="216.00" y1="383.30" x2="216.00" y2="489.40" stroke="#222" stroke-width="1.2" />
<line x1="215.40" y1="488.80" x2="336.60" y2="488.80" stroke="#222" stroke-width="1.2" />
<line x1="213.00" y1="488.80" x2="216.00" y2="488.80" stroke="#222" stroke-width="1" />
<text x="210.00" y="491.30" font-size="7" fill="#383838" text-anchor="end" >0.0</text>
<line x1="213.00" y1="471.60" x2="216.00" y2="471.60" stroke="#222" stroke-width="1" />
<text x="210.00" y="474.10" font-size="7" fill="#383838" text-anchor="end" >0.2</text>
<line x1="213.00" y1="454.40" x2="216.00" y2="454.40" stroke="#222" stroke-width="1" />
<text x="210.00" y="456.90" font-size="7" fill="#383838" text-anchor="end" >0.4</text>
<line x1="213.00" y1="437.20" x2="216.00" y2="437.20" stroke="#222" stroke-width="1" />
<text x="210.00" y="439.70" font-size="7" fill="#383838" text-anchor="end" >0.6</text>
<line x1="213.00" y1="420.00" x2="216.00" y2="420.00" stroke="#222" stroke-width="1" />
<text x="210.00" y="422.50" font-size="7" fill="#383838" text-anchor="end" >0.8</text>
<line x1="213.00" y1="402.80" x2="216.00" y2="402.80" stroke="#222" stroke-width="1" />
<text x="210.00" y="405.30" font-size="7" fill="#383838" text-anchor="end" >1.0</text>
<line x1="213.00" y1="385.60" x2="216.00" y2="385.60" stroke="#222" stroke-width="1" />
<text x="210.00" y="388.10" font-size="7" fill="#383838" text-anchor="end" >1.2</text>
<line x1="216.00" y1="488.80" x2="216.00" y2="491.80" stroke="#222" stroke-width="1" />
<text x="216.00" y="500.60" font-size="7" fill="#383838" text-anchor="middle" >–2</text>
<line x1="246.00" y1="488.80" x2="246.00" y2="491.80" stroke="#222" stroke-width="1" />
<text x="246.00" y="500.60" font-size="7" fill="#383838" text-anchor="middle" >–1</text>
<line x1="276.00" y1="488.80" x2="276.00" y2="491.80" stroke="#222" stroke-width="1" />
<text x="276.00" y="500.60" font-size="7" fill="#383838" text-anchor="middle" >0</text>
<line x1="306.00" y1="488.80" x2="306.00" y2="491.80" stroke="#222" stroke-width="1" />
<text x="306.00" y="500.60" font-size="7" fill="#383838" text-anchor="middle" >1</text>
<line x1="336.00" y1="488.80" x2="336.00" y2="491.80" stroke="#222" stroke-width="1" />
<text x="336.00" y="500.60" font-size="7" fill="#383838" text-anchor="middle" >2</text>
<text transform="translate(194.97,435.20) rotate(-90)" x="0" y="0" font-size="7.7" fill="#383838" text-anchor="middle" textLength="49" lengthAdjust="spacingAndGlyphs">Relative viability</text>
<text x="262.60" y="378.10" font-size="8.5" fill="#383838" textLength="26.90" lengthAdjust="spacingAndGlyphs" >JeKo-1</text>
<text x="276.60" y="511.00" font-size="8.3" fill="#383838" text-anchor="middle" textLength="49.2" lengthAdjust="spacingAndGlyphs">[ara-C] Log<tspan font-size="6.47" dy="1.6">10</tspan><tspan dy="-1.6">μM</tspan></text>
<polyline points="231.00,405.50 232.40,407.56 233.80,409.73 235.20,412.00 236.60,414.36 238.00,416.79 239.40,419.28 240.80,421.82 242.20,424.38 243.60,426.95 245.00,429.52 246.40,432.05 247.80,434.55 249.20,436.98 250.60,439.34 252.00,441.61 253.40,443.78 254.80,445.85 256.20,447.81 257.60,449.65 259.00,451.38 260.40,452.98 261.80,454.47 263.20,455.85 264.60,457.12 266.00,458.28 267.40,459.34 268.80,460.31 270.20,461.19 271.60,461.99 273.00,462.71 274.40,463.36 275.80,463.95 277.20,464.48 278.60,464.96 280.00,465.39 281.40,465.77 282.80,466.11 284.20,466.42 285.60,466.69 287.00,466.94 288.40,467.16 289.80,467.35 291.20,467.53 292.60,467.68 294.00,467.82 295.40,467.94 296.80,468.05 298.20,468.15 299.60,468.24 301.00,468.31 302.40,468.38 303.80,468.44 305.20,468.50 306.60,468.54 308.00,468.59 309.40,468.63 310.80,468.66 312.20,468.69 313.60,468.72 315.00,468.74" fill="none" stroke="#8878b4" stroke-width="1.0"/>
<polyline points="231.00,398.40 232.40,400.55 233.80,402.81 235.20,405.18 236.60,407.65 238.00,410.19 239.40,412.81 240.80,415.48 242.20,418.18 243.60,420.88 245.00,423.58 246.40,426.25 247.80,428.87 249.20,431.43 250.60,433.90 252.00,436.28 253.40,438.55 254.80,440.71 256.20,442.74 257.60,444.65 259.00,446.43 260.40,448.09 261.80,449.62 263.20,451.02 264.60,452.31 266.00,453.49 267.40,454.57 268.80,455.54 270.20,456.42 271.60,457.22 273.00,457.94 274.40,458.59 275.80,459.17 277.20,459.69 278.60,460.16 280.00,460.57 281.40,460.94 282.80,461.28 284.20,461.57 285.60,461.84 287.00,462.07 288.40,462.28 289.80,462.46 291.20,462.63 292.60,462.77 294.00,462.90 295.40,463.02 296.80,463.12 298.20,463.21 299.60,463.29 301.00,463.36 302.40,463.43 303.80,463.48 305.20,463.53 306.60,463.58 308.00,463.61 309.40,463.65 310.80,463.68 312.20,463.71 313.60,463.73 315.00,463.75" fill="none" stroke="#33a9dc" stroke-width="1.0" stroke-dasharray="1.6,1.2"/>
<line x1="231.00" y1="400.39" x2="231.00" y2="410.71" stroke="#a097c6" stroke-width="0.85" />
<line x1="228.80" y1="400.39" x2="233.20" y2="400.39" stroke="#a097c6" stroke-width="0.85" />
<line x1="228.80" y1="410.71" x2="233.20" y2="410.71" stroke="#a097c6" stroke-width="0.85" />
<line x1="252.00" y1="432.47" x2="252.00" y2="452.25" stroke="#a097c6" stroke-width="0.85" />
<line x1="249.80" y1="432.47" x2="254.20" y2="432.47" stroke="#a097c6" stroke-width="0.85" />
<line x1="249.80" y1="452.25" x2="254.20" y2="452.25" stroke="#a097c6" stroke-width="0.85" />
<line x1="273.00" y1="459.99" x2="273.00" y2="466.01" stroke="#a097c6" stroke-width="0.85" />
<line x1="270.80" y1="459.99" x2="275.20" y2="459.99" stroke="#a097c6" stroke-width="0.85" />
<line x1="270.80" y1="466.01" x2="275.20" y2="466.01" stroke="#a097c6" stroke-width="0.85" />
<line x1="294.00" y1="467.30" x2="294.00" y2="469.02" stroke="#a097c6" stroke-width="0.85" />
<line x1="291.80" y1="467.30" x2="296.20" y2="467.30" stroke="#a097c6" stroke-width="0.85" />
<line x1="291.80" y1="469.02" x2="296.20" y2="469.02" stroke="#a097c6" stroke-width="0.85" />
<line x1="315.00" y1="467.64" x2="315.00" y2="469.36" stroke="#a097c6" stroke-width="0.85" />
<line x1="312.80" y1="467.64" x2="317.20" y2="467.64" stroke="#a097c6" stroke-width="0.85" />
<line x1="312.80" y1="469.36" x2="317.20" y2="469.36" stroke="#a097c6" stroke-width="0.85" />
<circle cx="231.00" cy="405.55" r="2.2" fill="#7c6eab"/>
<circle cx="252.00" cy="442.36" r="2.2" fill="#7c6eab"/>
<circle cx="273.00" cy="463.00" r="2.2" fill="#7c6eab"/>
<circle cx="294.00" cy="468.16" r="2.2" fill="#7c6eab"/>
<circle cx="315.00" cy="468.50" r="2.2" fill="#7c6eab"/>
<line x1="231.00" y1="390.33" x2="231.00" y2="405.81" stroke="#6cc0e6" stroke-width="0.85" />
<line x1="228.80" y1="390.33" x2="233.20" y2="390.33" stroke="#6cc0e6" stroke-width="0.85" />
<line x1="228.80" y1="405.81" x2="233.20" y2="405.81" stroke="#6cc0e6" stroke-width="0.85" />
<line x1="252.00" y1="418.28" x2="252.00" y2="454.40" stroke="#6cc0e6" stroke-width="0.85" />
<line x1="249.80" y1="418.28" x2="254.20" y2="418.28" stroke="#6cc0e6" stroke-width="0.85" />
<line x1="249.80" y1="454.40" x2="254.20" y2="454.40" stroke="#6cc0e6" stroke-width="0.85" />
<line x1="273.00" y1="455.69" x2="273.00" y2="459.13" stroke="#6cc0e6" stroke-width="0.85" />
<line x1="270.80" y1="455.69" x2="275.20" y2="455.69" stroke="#6cc0e6" stroke-width="0.85" />
<line x1="270.80" y1="459.13" x2="275.20" y2="459.13" stroke="#6cc0e6" stroke-width="0.85" />
<line x1="294.00" y1="461.28" x2="294.00" y2="464.72" stroke="#6cc0e6" stroke-width="0.85" />
<line x1="291.80" y1="461.28" x2="296.20" y2="461.28" stroke="#6cc0e6" stroke-width="0.85" />
<line x1="291.80" y1="464.72" x2="296.20" y2="464.72" stroke="#6cc0e6" stroke-width="0.85" />
<line x1="315.00" y1="462.14" x2="315.00" y2="465.58" stroke="#6cc0e6" stroke-width="0.85" />
<line x1="312.80" y1="462.14" x2="317.20" y2="462.14" stroke="#6cc0e6" stroke-width="0.85" />
<line x1="312.80" y1="465.58" x2="317.20" y2="465.58" stroke="#6cc0e6" stroke-width="0.85" />
<rect x="228.80" y="395.87" width="4.40" height="4.40" fill="#2c9ccf"/>
<rect x="249.80" y="434.14" width="4.40" height="4.40" fill="#2c9ccf"/>
<rect x="270.80" y="455.21" width="4.40" height="4.40" fill="#2c9ccf"/>
<rect x="291.80" y="460.80" width="4.40" height="4.40" fill="#2c9ccf"/>
<rect x="312.80" y="461.66" width="4.40" height="4.40" fill="#2c9ccf"/>
<line x1="389.80" y1="383.30" x2="389.80" y2="489.40" stroke="#222" stroke-width="1.2" />
<line x1="389.20" y1="488.80" x2="510.40" y2="488.80" stroke="#222" stroke-width="1.2" />
<line x1="386.80" y1="488.80" x2="389.80" y2="488.80" stroke="#222" stroke-width="1" />
<text x="383.80" y="491.30" font-size="7" fill="#383838" text-anchor="end" >0.0</text>
<line x1="386.80" y1="471.60" x2="389.80" y2="471.60" stroke="#222" stroke-width="1" />
<text x="383.80" y="474.10" font-size="7" fill="#383838" text-anchor="end" >0.2</text>
<line x1="386.80" y1="454.40" x2="389.80" y2="454.40" stroke="#222" stroke-width="1" />
<text x="383.80" y="456.90" font-size="7" fill="#383838" text-anchor="end" >0.4</text>
<line x1="386.80" y1="437.20" x2="389.80" y2="437.20" stroke="#222" stroke-width="1" />
<text x="383.80" y="439.70" font-size="7" fill="#383838" text-anchor="end" >0.6</text>
<line x1="386.80" y1="420.00" x2="389.80" y2="420.00" stroke="#222" stroke-width="1" />
<text x="383.80" y="422.50" font-size="7" fill="#383838" text-anchor="end" >0.8</text>
<line x1="386.80" y1="402.80" x2="389.80" y2="402.80" stroke="#222" stroke-width="1" />
<text x="383.80" y="405.30" font-size="7" fill="#383838" text-anchor="end" >1.0</text>
<line x1="386.80" y1="385.60" x2="389.80" y2="385.60" stroke="#222" stroke-width="1" />
<text x="383.80" y="388.10" font-size="7" fill="#383838" text-anchor="end" >1.2</text>
<line x1="389.80" y1="488.80" x2="389.80" y2="491.80" stroke="#222" stroke-width="1" />
<text x="389.80" y="500.60" font-size="7" fill="#383838" text-anchor="middle" >–2</text>
<line x1="419.80" y1="488.80" x2="419.80" y2="491.80" stroke="#222" stroke-width="1" />
<text x="419.80" y="500.60" font-size="7" fill="#383838" text-anchor="middle" >–1</text>
<line x1="449.80" y1="488.80" x2="449.80" y2="491.80" stroke="#222" stroke-width="1" />
<text x="449.80" y="500.60" font-size="7" fill="#383838" text-anchor="middle" >0</text>
<line x1="479.80" y1="488.80" x2="479.80" y2="491.80" stroke="#222" stroke-width="1" />
<text x="479.80" y="500.60" font-size="7" fill="#383838" text-anchor="middle" >1</text>
<line x1="509.80" y1="488.80" x2="509.80" y2="491.80" stroke="#222" stroke-width="1" />
<text x="509.80" y="500.60" font-size="7" fill="#383838" text-anchor="middle" >2</text>
<text transform="translate(368.77,435.20) rotate(-90)" x="0" y="0" font-size="7.7" fill="#383838" text-anchor="middle" textLength="49" lengthAdjust="spacingAndGlyphs">Relative viability</text>
<text x="429.20" y="378.10" font-size="8.5" fill="#383838" textLength="45.40" lengthAdjust="spacingAndGlyphs" >Granta-519</text>
<text x="450.40" y="511.00" font-size="8.3" fill="#383838" text-anchor="middle" textLength="49.2" lengthAdjust="spacingAndGlyphs">[ara-C] Log<tspan font-size="6.47" dy="1.6">10</tspan><tspan dy="-1.6">μM</tspan></text>
<polyline points="404.80,415.71 406.20,416.71 407.60,417.74 409.00,418.81 410.40,419.91 411.80,421.03 413.20,422.18 414.60,423.35 416.00,424.53 417.40,425.72 418.80,426.92 420.20,428.12 421.60,429.31 423.00,430.50 424.40,431.67 425.80,432.83 427.20,433.96 428.60,435.06 430.00,436.14 431.40,437.18 432.80,438.19 434.20,439.16 435.60,440.09 437.00,440.98 438.40,441.82 439.80,442.63 441.20,443.39 442.60,444.12 444.00,444.80 445.40,445.44 446.80,446.04 448.20,446.60 449.60,447.13 451.00,447.62 452.40,448.08 453.80,448.51 455.20,448.90 456.60,449.27 458.00,449.61 459.40,449.93 460.80,450.22 462.20,450.49 463.60,450.74 465.00,450.97 466.40,451.18 467.80,451.37 469.20,451.55 470.60,451.72 472.00,451.87 473.40,452.01 474.80,452.13 476.20,452.25 477.60,452.36 479.00,452.46 480.40,452.55 481.80,452.63 483.20,452.70 484.60,452.77 486.00,452.84 487.40,452.89 488.80,452.95" fill="none" stroke="#8878b4" stroke-width="1.0"/>
<polyline points="404.80,411.94 406.20,416.28 407.60,420.20 409.00,423.72 410.40,426.89 411.80,429.73 413.20,432.27 414.60,434.54 416.00,436.56 417.40,438.36 418.80,439.97 420.20,441.40 421.60,442.66 423.00,443.79 424.40,444.79 425.80,445.67 427.20,446.45 428.60,447.15 430.00,447.76 431.40,448.30 432.80,448.78 434.20,449.21 435.60,449.58 437.00,449.92 438.40,450.21 439.80,450.47 441.20,450.69 442.60,450.90 444.00,451.07 445.40,451.23 446.80,451.37 448.20,451.49 449.60,451.60 451.00,451.70 452.40,451.78 453.80,451.85 455.20,451.92 456.60,451.98 458.00,452.03 459.40,452.07 460.80,452.11 462.20,452.15 463.60,452.18 465.00,452.21 466.40,452.23 467.80,452.25 469.20,452.27 470.60,452.29 472.00,452.30 473.40,452.31 474.80,452.32 476.20,452.33 477.60,452.34 479.00,452.35 480.40,452.36 481.80,452.36 483.20,452.37 484.60,452.37 486.00,452.38 487.40,452.38 488.80,452.38" fill="none" stroke="#33a9dc" stroke-width="1.0" stroke-dasharray="1.6,1.2"/>
<line x1="404.80" y1="413.12" x2="404.80" y2="418.28" stroke="#a097c6" stroke-width="0.85" />
<line x1="402.60" y1="413.12" x2="407.00" y2="413.12" stroke="#a097c6" stroke-width="0.85" />
<line x1="402.60" y1="418.28" x2="407.00" y2="418.28" stroke="#a097c6" stroke-width="0.85" />
<line x1="425.80" y1="427.31" x2="425.80" y2="438.49" stroke="#a097c6" stroke-width="0.85" />
<line x1="423.60" y1="427.31" x2="428.00" y2="427.31" stroke="#a097c6" stroke-width="0.85" />
<line x1="423.60" y1="438.49" x2="428.00" y2="438.49" stroke="#a097c6" stroke-width="0.85" />
<line x1="446.80" y1="443.22" x2="446.80" y2="446.66" stroke="#a097c6" stroke-width="0.85" />
<line x1="444.60" y1="443.22" x2="449.00" y2="443.22" stroke="#a097c6" stroke-width="0.85" />
<line x1="444.60" y1="446.66" x2="449.00" y2="446.66" stroke="#a097c6" stroke-width="0.85" />
<line x1="467.80" y1="447.52" x2="467.80" y2="457.84" stroke="#a097c6" stroke-width="0.85" />
<line x1="465.60" y1="447.52" x2="470.00" y2="447.52" stroke="#a097c6" stroke-width="0.85" />
<line x1="465.60" y1="457.84" x2="470.00" y2="457.84" stroke="#a097c6" stroke-width="0.85" />
<line x1="488.80" y1="447.52" x2="488.80" y2="457.84" stroke="#a097c6" stroke-width="0.85" />
<line x1="486.60" y1="447.52" x2="491.00" y2="447.52" stroke="#a097c6" stroke-width="0.85" />
<line x1="486.60" y1="457.84" x2="491.00" y2="457.84" stroke="#a097c6" stroke-width="0.85" />
<circle cx="404.80" cy="415.70" r="2.2" fill="#7c6eab"/>
<circle cx="425.80" cy="432.90" r="2.2" fill="#7c6eab"/>
<circle cx="446.80" cy="444.94" r="2.2" fill="#7c6eab"/>
<circle cx="467.80" cy="452.68" r="2.2" fill="#7c6eab"/>
<circle cx="488.80" cy="452.68" r="2.2" fill="#7c6eab"/>
<line x1="404.80" y1="398.41" x2="404.80" y2="415.61" stroke="#6cc0e6" stroke-width="0.85" />
<line x1="402.60" y1="398.41" x2="407.00" y2="398.41" stroke="#6cc0e6" stroke-width="0.85" />
<line x1="402.60" y1="415.61" x2="407.00" y2="415.61" stroke="#6cc0e6" stroke-width="0.85" />
<line x1="425.80" y1="439.78" x2="425.80" y2="451.82" stroke="#6cc0e6" stroke-width="0.85" />
<line x1="423.60" y1="439.78" x2="428.00" y2="439.78" stroke="#6cc0e6" stroke-width="0.85" />
<line x1="423.60" y1="451.82" x2="428.00" y2="451.82" stroke="#6cc0e6" stroke-width="0.85" />
<line x1="446.80" y1="448.38" x2="446.80" y2="453.54" stroke="#6cc0e6" stroke-width="0.85" />
<line x1="444.60" y1="448.38" x2="449.00" y2="448.38" stroke="#6cc0e6" stroke-width="0.85" />
<line x1="444.60" y1="453.54" x2="449.00" y2="453.54" stroke="#6cc0e6" stroke-width="0.85" />
<line x1="467.80" y1="447.52" x2="467.80" y2="457.84" stroke="#6cc0e6" stroke-width="0.85" />
<line x1="465.60" y1="447.52" x2="470.00" y2="447.52" stroke="#6cc0e6" stroke-width="0.85" />
<line x1="465.60" y1="457.84" x2="470.00" y2="457.84" stroke="#6cc0e6" stroke-width="0.85" />
<line x1="488.80" y1="447.52" x2="488.80" y2="457.84" stroke="#6cc0e6" stroke-width="0.85" />
<line x1="486.60" y1="447.52" x2="491.00" y2="447.52" stroke="#6cc0e6" stroke-width="0.85" />
<line x1="486.60" y1="457.84" x2="491.00" y2="457.84" stroke="#6cc0e6" stroke-width="0.85" />
<rect x="402.60" y="404.81" width="4.40" height="4.40" fill="#2c9ccf"/>
<rect x="423.60" y="443.60" width="4.40" height="4.40" fill="#2c9ccf"/>
<rect x="444.60" y="448.76" width="4.40" height="4.40" fill="#2c9ccf"/>
<rect x="465.60" y="450.48" width="4.40" height="4.40" fill="#2c9ccf"/>
<rect x="486.60" y="450.48" width="4.40" height="4.40" fill="#2c9ccf"/>
<line x1="489.00" y1="393.00" x2="497.20" y2="393.00" stroke="#a89fcc" stroke-width="0.9" />
<circle cx="493.10" cy="393.00" r="2.1" fill="#7c6eab"/>
<line x1="489.00" y1="404.40" x2="497.20" y2="404.40" stroke="#7cc8ea" stroke-width="0.9" />
<rect x="491.10" y="402.40" width="4.00" height="4.00" fill="#2c9ccf"/>
<text x="501.40" y="395.60" font-size="7.4" fill="#383838" textLength="9.00" lengthAdjust="spacingAndGlyphs" >dX</text>
<text x="501.00" y="407.00" font-size="7.4" fill="#383838" textLength="11.00" lengthAdjust="spacingAndGlyphs" >Vpx</text>
<rect x="74.60" y="565.60" width="38.10" height="11.40" fill="#d7d7d7" />
<rect x="74.60" y="577.60" width="38.10" height="12.80" fill="#dedede" />
<line x1="74.60" y1="576.80" x2="112.70" y2="576.80" stroke="#ececec" stroke-width="0.9" />
<rect x="78.10" y="569.60" width="14.00" height="3.60" rx="1.20" fill="#0a0a0a" filter="url(#b)"/>
<rect x="96.75" y="570.80" width="13.50" height="3.00" rx="1.50" fill="#9e9e9e" filter="url(#b)"/>
<rect x="77.50" y="582.50" width="14.60" height="4.20" rx="1.50" fill="#080808" filter="url(#b)"/>
<rect x="96.20" y="582.50" width="14.40" height="4.20" rx="1.50" fill="#080808" filter="url(#b)"/>
<rect x="114.60" y="565.00" width="37.90" height="12.00" fill="#b0b0b0" />
<rect x="114.60" y="577.60" width="37.90" height="13.20" fill="#b5b5b5" />
<line x1="114.60" y1="577.30" x2="152.50" y2="577.30" stroke="#d4d4d4" stroke-width="0.9" />
<rect x="118.95" y="568.50" width="12.50" height="3.40" rx="1.20" fill="#0a0a0a" filter="url(#b)"/>
<rect x="135.00" y="569.70" width="12.00" height="2.20" rx="1.10" fill="#a0a0a0" filter="url(#b)"/>
<rect x="116.60" y="583.30" width="14.00" height="4.00" rx="1.50" fill="#080808" filter="url(#b)"/>
<rect x="133.60" y="583.30" width="13.40" height="4.00" rx="1.50" fill="#080808" filter="url(#b)"/>
<text x="77.00" y="563.70" font-size="7" fill="#383838" textLength="32.60" lengthAdjust="spacingAndGlyphs" >Granta-519</text>
<text x="123.80" y="563.70" font-size="7" fill="#383838" textLength="20.00" lengthAdjust="spacingAndGlyphs" >JeKo-1</text>
<text x="51.90" y="574.00" font-size="7" fill="#383838" textLength="19.80" lengthAdjust="spacingAndGlyphs" >SOX11</text>
<text x="48.70" y="587.10" font-size="7" fill="#383838" textLength="23.00" lengthAdjust="spacingAndGlyphs" >GAPDH</text>
<text transform="translate(89.30,596.80) rotate(-45)" x="0" y="0" font-size="7" fill="#383838" text-anchor="end" textLength="31" lengthAdjust="spacingAndGlyphs">Ctrl siRNA</text>
<text transform="translate(108.50,596.80) rotate(-45)" x="0" y="0" font-size="7" fill="#383838" text-anchor="end" textLength="39.5" lengthAdjust="spacingAndGlyphs">SOX11 siRNA</text>
<text transform="translate(127.80,596.80) rotate(-45)" x="0" y="0" font-size="7" fill="#383838" text-anchor="end" textLength="31" lengthAdjust="spacingAndGlyphs">Ctrl siRNA</text>
<text transform="translate(145.40,597.30) rotate(-45)" x="0" y="0" font-size="7" fill="#383838" text-anchor="end" textLength="39.5" lengthAdjust="spacingAndGlyphs">SOX11 siRNA</text>
<line x1="215.80" y1="560.60" x2="215.80" y2="663.10" stroke="#222" stroke-width="1.2" />
<line x1="215.20" y1="662.50" x2="337.60" y2="662.50" stroke="#222" stroke-width="1.2" />
<line x1="212.80" y1="662.50" x2="215.80" y2="662.50" stroke="#222" stroke-width="1" />
<text x="209.80" y="665.00" font-size="7" fill="#383838" text-anchor="end" >0.0</text>
<line x1="212.80" y1="642.58" x2="215.80" y2="642.58" stroke="#222" stroke-width="1" />
<text x="209.80" y="645.08" font-size="7" fill="#383838" text-anchor="end" >0.2</text>
<line x1="212.80" y1="622.66" x2="215.80" y2="622.66" stroke="#222" stroke-width="1" />
<text x="209.80" y="625.16" font-size="7" fill="#383838" text-anchor="end" >0.4</text>
<line x1="212.80" y1="602.74" x2="215.80" y2="602.74" stroke="#222" stroke-width="1" />
<text x="209.80" y="605.24" font-size="7" fill="#383838" text-anchor="end" >0.6</text>
<line x1="212.80" y1="582.82" x2="215.80" y2="582.82" stroke="#222" stroke-width="1" />
<text x="209.80" y="585.32" font-size="7" fill="#383838" text-anchor="end" >0.8</text>
<line x1="212.80" y1="562.90" x2="215.80" y2="562.90" stroke="#222" stroke-width="1" />
<text x="209.80" y="565.40" font-size="7" fill="#383838" text-anchor="end" >1.0</text>
<line x1="215.80" y1="662.50" x2="215.80" y2="665.50" stroke="#222" stroke-width="1" />
<text x="215.80" y="674.10" font-size="7" fill="#383838" text-anchor="middle" >–2</text>
<line x1="246.10" y1="662.50" x2="246.10" y2="665.50" stroke="#222" stroke-width="1" />
<text x="246.10" y="674.10" font-size="7" fill="#383838" text-anchor="middle" >–1</text>
<line x1="276.40" y1="662.50" x2="276.40" y2="665.50" stroke="#222" stroke-width="1" />
<text x="276.40" y="674.10" font-size="7" fill="#383838" text-anchor="middle" >0</text>
<line x1="306.70" y1="662.50" x2="306.70" y2="665.50" stroke="#222" stroke-width="1" />
<text x="306.70" y="674.10" font-size="7" fill="#383838" text-anchor="middle" >1</text>
<line x1="337.00" y1="662.50" x2="337.00" y2="665.50" stroke="#222" stroke-width="1" />
<text x="337.00" y="674.10" font-size="7" fill="#383838" text-anchor="middle" >2</text>
<text transform="translate(195.37,611.00) rotate(-90)" x="0" y="0" font-size="8.8" fill="#383838" text-anchor="middle" textLength="49.8" lengthAdjust="spacingAndGlyphs">Relative viability</text>
<text x="256.00" y="554.90" font-size="8.7" fill="#383838" textLength="43.70" lengthAdjust="spacingAndGlyphs" >Granta-519</text>
<text x="276.90" y="685.80" font-size="8.3" fill="#383838" text-anchor="middle" textLength="49.2" lengthAdjust="spacingAndGlyphs">[ara-C] Log<tspan font-size="6.47" dy="1.6">10</tspan><tspan dy="-1.6">μM</tspan></text>
<polyline points="230.95,578.06 232.36,578.72 233.78,579.42 235.19,580.14 236.61,580.89 238.02,581.67 239.43,582.48 240.85,583.32 242.26,584.18 243.68,585.07 245.09,585.98 246.50,586.92 247.92,587.87 249.33,588.84 250.75,589.82 252.16,590.82 253.57,591.82 254.99,592.83 256.40,593.84 257.82,594.84 259.23,595.85 260.64,596.85 262.06,597.83 263.47,598.81 264.89,599.77 266.30,600.71 267.71,601.63 269.13,602.53 270.54,603.40 271.96,604.25 273.37,605.07 274.78,605.86 276.20,606.62 277.61,607.35 279.03,608.06 280.44,608.73 281.85,609.37 283.27,609.98 284.68,610.56 286.10,611.11 287.51,611.63 288.92,612.13 290.34,612.60 291.75,613.04 293.17,613.45 294.58,613.84 295.99,614.21 297.41,614.55 298.82,614.87 300.24,615.18 301.65,615.46 303.06,615.72 304.48,615.97 305.89,616.20 307.31,616.42 308.72,616.62 310.13,616.81 311.55,616.98 312.96,617.14 314.38,617.29 315.79,617.43" fill="none" stroke="#333" stroke-width="0.9" stroke-dasharray="1.5,1.2"/>
<polyline points="230.95,584.95 232.36,586.66 233.78,588.41 235.19,590.17 236.61,591.95 238.02,593.74 239.43,595.53 240.85,597.31 242.26,599.06 243.68,600.80 245.09,602.50 246.50,604.16 247.92,605.77 249.33,607.33 250.75,608.84 252.16,610.28 253.57,611.67 254.99,612.98 256.40,614.23 257.82,615.41 259.23,616.53 260.64,617.58 262.06,618.56 263.47,619.48 264.89,620.34 266.30,621.14 267.71,621.88 269.13,622.57 270.54,623.21 271.96,623.80 273.37,624.34 274.78,624.84 276.20,625.30 277.61,625.72 279.03,626.11 280.44,626.47 281.85,626.79 283.27,627.09 284.68,627.36 286.10,627.61 287.51,627.84 288.92,628.05 290.34,628.24 291.75,628.41 293.17,628.56 294.58,628.71 295.99,628.84 297.41,628.96 298.82,629.06 300.24,629.16 301.65,629.25 303.06,629.33 304.48,629.41 305.89,629.47 307.31,629.53 308.72,629.59 310.13,629.64 311.55,629.68 312.96,629.73 314.38,629.76 315.79,629.80" fill="none" stroke="#111" stroke-width="1.1"/>
<line x1="230.95" y1="565.89" x2="230.95" y2="587.80" stroke="#555" stroke-width="0.85" />
<line x1="228.75" y1="565.89" x2="233.15" y2="565.89" stroke="#555" stroke-width="0.85" />
<line x1="228.75" y1="587.80" x2="233.15" y2="587.80" stroke="#555" stroke-width="0.85" />
<line x1="252.16" y1="589.79" x2="252.16" y2="595.77" stroke="#555" stroke-width="0.85" />
<line x1="249.96" y1="589.79" x2="254.36" y2="589.79" stroke="#555" stroke-width="0.85" />
<line x1="249.96" y1="595.77" x2="254.36" y2="595.77" stroke="#555" stroke-width="0.85" />
<line x1="273.37" y1="592.28" x2="273.37" y2="613.20" stroke="#555" stroke-width="0.85" />
<line x1="271.17" y1="592.28" x2="275.57" y2="592.28" stroke="#555" stroke-width="0.85" />
<line x1="271.17" y1="613.20" x2="275.57" y2="613.20" stroke="#555" stroke-width="0.85" />
<line x1="294.58" y1="606.72" x2="294.58" y2="622.66" stroke="#555" stroke-width="0.85" />
<line x1="292.38" y1="606.72" x2="296.78" y2="606.72" stroke="#555" stroke-width="0.85" />
<line x1="292.38" y1="622.66" x2="296.78" y2="622.66" stroke="#555" stroke-width="0.85" />
<line x1="315.79" y1="614.69" x2="315.79" y2="622.66" stroke="#555" stroke-width="0.85" />
<line x1="313.59" y1="614.69" x2="317.99" y2="614.69" stroke="#555" stroke-width="0.85" />
<line x1="313.59" y1="622.66" x2="317.99" y2="622.66" stroke="#555" stroke-width="0.85" />
<rect x="228.85" y="574.74" width="4.20" height="4.20" fill="#111"/>
<rect x="250.06" y="590.68" width="4.20" height="4.20" fill="#111"/>
<rect x="271.27" y="600.64" width="4.20" height="4.20" fill="#111"/>
<rect x="292.48" y="612.59" width="4.20" height="4.20" fill="#111"/>
<rect x="313.69" y="616.58" width="4.20" height="4.20" fill="#111"/>
<line x1="230.95" y1="564.89" x2="230.95" y2="605.73" stroke="#444" stroke-width="0.85" />
<line x1="228.75" y1="564.89" x2="233.15" y2="564.89" stroke="#444" stroke-width="0.85" />
<line x1="228.75" y1="605.73" x2="233.15" y2="605.73" stroke="#444" stroke-width="0.85" />
<line x1="252.16" y1="597.96" x2="252.16" y2="624.85" stroke="#444" stroke-width="0.85" />
<line x1="249.96" y1="597.96" x2="254.36" y2="597.96" stroke="#444" stroke-width="0.85" />
<line x1="249.96" y1="624.85" x2="254.36" y2="624.85" stroke="#444" stroke-width="0.85" />
<line x1="273.37" y1="618.68" x2="273.37" y2="628.64" stroke="#444" stroke-width="0.85" />
<line x1="271.17" y1="618.68" x2="275.57" y2="618.68" stroke="#444" stroke-width="0.85" />
<line x1="271.17" y1="628.64" x2="275.57" y2="628.64" stroke="#444" stroke-width="0.85" />
<line x1="294.58" y1="620.87" x2="294.58" y2="636.80" stroke="#444" stroke-width="0.85" />
<line x1="292.38" y1="620.87" x2="296.78" y2="620.87" stroke="#444" stroke-width="0.85" />
<line x1="292.38" y1="636.80" x2="296.78" y2="636.80" stroke="#444" stroke-width="0.85" />
<line x1="315.79" y1="621.66" x2="315.79" y2="641.58" stroke="#444" stroke-width="0.85" />
<line x1="313.59" y1="621.66" x2="317.99" y2="621.66" stroke="#444" stroke-width="0.85" />
<line x1="313.59" y1="641.58" x2="317.99" y2="641.58" stroke="#444" stroke-width="0.85" />
<circle cx="230.95" cy="585.31" r="2.2" fill="#111"/>
<circle cx="252.16" cy="611.41" r="2.2" fill="#111"/>
<circle cx="273.37" cy="623.66" r="2.2" fill="#111"/>
<circle cx="294.58" cy="628.84" r="2.2" fill="#111"/>
<circle cx="315.79" cy="631.62" r="2.2" fill="#111"/>
<text x="223.30" y="586.80" font-size="9.5" fill="#383838" textLength="5.00" lengthAdjust="spacingAndGlyphs" >**</text>
<line x1="389.00" y1="560.60" x2="389.00" y2="663.20" stroke="#222" stroke-width="1.2" />
<line x1="388.40" y1="662.60" x2="510.80" y2="662.60" stroke="#222" stroke-width="1.2" />
<line x1="386.00" y1="662.60" x2="389.00" y2="662.60" stroke="#222" stroke-width="1" />
<text x="383.00" y="665.10" font-size="7" fill="#383838" text-anchor="end" >0.0</text>
<line x1="386.00" y1="642.66" x2="389.00" y2="642.66" stroke="#222" stroke-width="1" />
<text x="383.00" y="645.16" font-size="7" fill="#383838" text-anchor="end" >0.2</text>
<line x1="386.00" y1="622.72" x2="389.00" y2="622.72" stroke="#222" stroke-width="1" />
<text x="383.00" y="625.22" font-size="7" fill="#383838" text-anchor="end" >0.4</text>
<line x1="386.00" y1="602.78" x2="389.00" y2="602.78" stroke="#222" stroke-width="1" />
<text x="383.00" y="605.28" font-size="7" fill="#383838" text-anchor="end" >0.6</text>
<line x1="386.00" y1="582.84" x2="389.00" y2="582.84" stroke="#222" stroke-width="1" />
<text x="383.00" y="585.34" font-size="7" fill="#383838" text-anchor="end" >0.8</text>
<line x1="386.00" y1="562.90" x2="389.00" y2="562.90" stroke="#222" stroke-width="1" />
<text x="383.00" y="565.40" font-size="7" fill="#383838" text-anchor="end" >1.0</text>
<line x1="389.00" y1="662.60" x2="389.00" y2="665.60" stroke="#222" stroke-width="1" />
<text x="389.00" y="674.10" font-size="7" fill="#383838" text-anchor="middle" >–2</text>
<line x1="419.30" y1="662.60" x2="419.30" y2="665.60" stroke="#222" stroke-width="1" />
<text x="419.30" y="674.10" font-size="7" fill="#383838" text-anchor="middle" >–1</text>
<line x1="449.60" y1="662.60" x2="449.60" y2="665.60" stroke="#222" stroke-width="1" />
<text x="449.60" y="674.10" font-size="7" fill="#383838" text-anchor="middle" >0</text>
<line x1="479.90" y1="662.60" x2="479.90" y2="665.60" stroke="#222" stroke-width="1" />
<text x="479.90" y="674.10" font-size="7" fill="#383838" text-anchor="middle" >1</text>
<line x1="510.20" y1="662.60" x2="510.20" y2="665.60" stroke="#222" stroke-width="1" />
<text x="510.20" y="674.10" font-size="7" fill="#383838" text-anchor="middle" >2</text>
<text transform="translate(369.37,611.00) rotate(-90)" x="0" y="0" font-size="8.8" fill="#383838" text-anchor="middle" textLength="49.8" lengthAdjust="spacingAndGlyphs">Relative viability</text>
<text x="437.90" y="554.50" font-size="8.7" fill="#383838" textLength="26.30" lengthAdjust="spacingAndGlyphs" >JeKo-1</text>
<text x="450.20" y="685.80" font-size="8.3" fill="#383838" text-anchor="middle" textLength="49.2" lengthAdjust="spacingAndGlyphs">[ara-C] Log<tspan font-size="6.47" dy="1.6">10</tspan><tspan dy="-1.6">μM</tspan></text>
<polyline points="404.15,595.56 405.56,597.06 406.98,598.61 408.39,600.20 409.81,601.81 411.22,603.45 412.63,605.11 414.05,606.77 415.46,608.43 416.88,610.07 418.29,611.70 419.70,613.31 421.12,614.88 422.53,616.41 423.95,617.90 425.36,619.34 426.77,620.72 428.19,622.04 429.60,623.31 431.02,624.51 432.43,625.64 433.84,626.72 435.26,627.73 436.67,628.67 438.09,629.56 439.50,630.38 440.91,631.15 442.33,631.87 443.74,632.53 445.16,633.14 446.57,633.70 447.98,634.22 449.40,634.70 450.81,635.14 452.23,635.54 453.64,635.91 455.05,636.24 456.47,636.55 457.88,636.83 459.30,637.09 460.71,637.33 462.12,637.54 463.54,637.73 464.95,637.91 466.37,638.07 467.78,638.22 469.19,638.35 470.61,638.47 472.02,638.58 473.44,638.68 474.85,638.77 476.26,638.85 477.68,638.93 479.09,638.99 480.51,639.05 481.92,639.11 483.33,639.16 484.75,639.21 486.16,639.25 487.58,639.28 488.99,639.32" fill="none" stroke="#333" stroke-width="0.9" stroke-dasharray="1.5,1.2"/>
<polyline points="404.15,621.59 405.56,622.15 406.98,622.74 408.39,623.37 409.81,624.03 411.22,624.72 412.63,625.43 414.05,626.17 415.46,626.93 416.88,627.70 418.29,628.48 419.70,629.26 421.12,630.03 422.53,630.80 423.95,631.56 425.36,632.29 426.77,633.00 428.19,633.68 429.60,634.33 431.02,634.95 432.43,635.54 433.84,636.09 435.26,636.60 436.67,637.08 438.09,637.52 439.50,637.92 440.91,638.30 442.33,638.64 443.74,638.95 445.16,639.24 446.57,639.49 447.98,639.73 449.40,639.94 450.81,640.13 452.23,640.30 453.64,640.45 455.05,640.59 456.47,640.71 457.88,640.82 459.30,640.92 460.71,641.01 462.12,641.08 463.54,641.15 464.95,641.22 466.37,641.27 467.78,641.32 469.19,641.37 470.61,641.40 472.02,641.44 473.44,641.47 474.85,641.50 476.26,641.52 477.68,641.54 479.09,641.56 480.51,641.58 481.92,641.59 483.33,641.61 484.75,641.62 486.16,641.63 487.58,641.64 488.99,641.65" fill="none" stroke="#111" stroke-width="1.1"/>
<line x1="404.15" y1="594.80" x2="404.15" y2="596.80" stroke="#555" stroke-width="0.85" />
<line x1="401.95" y1="594.80" x2="406.35" y2="594.80" stroke="#555" stroke-width="0.85" />
<line x1="401.95" y1="596.80" x2="406.35" y2="596.80" stroke="#555" stroke-width="0.85" />
<line x1="425.36" y1="617.74" x2="425.36" y2="621.72" stroke="#555" stroke-width="0.85" />
<line x1="423.16" y1="617.74" x2="427.56" y2="617.74" stroke="#555" stroke-width="0.85" />
<line x1="423.16" y1="621.72" x2="427.56" y2="621.72" stroke="#555" stroke-width="0.85" />
<line x1="446.57" y1="623.22" x2="446.57" y2="634.78" stroke="#555" stroke-width="0.85" />
<line x1="444.37" y1="623.22" x2="448.77" y2="623.22" stroke="#555" stroke-width="0.85" />
<line x1="444.37" y1="634.78" x2="448.77" y2="634.78" stroke="#555" stroke-width="0.85" />
<line x1="467.78" y1="637.18" x2="467.78" y2="641.16" stroke="#555" stroke-width="0.85" />
<line x1="465.58" y1="637.18" x2="469.98" y2="637.18" stroke="#555" stroke-width="0.85" />
<line x1="465.58" y1="641.16" x2="469.98" y2="641.16" stroke="#555" stroke-width="0.85" />
<line x1="488.99" y1="638.17" x2="488.99" y2="642.16" stroke="#555" stroke-width="0.85" />
<line x1="486.79" y1="638.17" x2="491.19" y2="638.17" stroke="#555" stroke-width="0.85" />
<line x1="486.79" y1="642.16" x2="491.19" y2="642.16" stroke="#555" stroke-width="0.85" />
<rect x="402.05" y="593.70" width="4.20" height="4.20" fill="#111"/>
<rect x="423.26" y="617.63" width="4.20" height="4.20" fill="#111"/>
<rect x="444.47" y="626.90" width="4.20" height="4.20" fill="#111"/>
<rect x="465.68" y="637.07" width="4.20" height="4.20" fill="#111"/>
<rect x="486.89" y="638.07" width="4.20" height="4.20" fill="#111"/>
<line x1="404.15" y1="616.74" x2="404.15" y2="625.71" stroke="#444" stroke-width="0.85" />
<line x1="401.95" y1="616.74" x2="406.35" y2="616.74" stroke="#444" stroke-width="0.85" />
<line x1="401.95" y1="625.71" x2="406.35" y2="625.71" stroke="#444" stroke-width="0.85" />
<line x1="425.36" y1="632.69" x2="425.36" y2="634.68" stroke="#444" stroke-width="0.85" />
<line x1="423.16" y1="632.69" x2="427.56" y2="632.69" stroke="#444" stroke-width="0.85" />
<line x1="423.16" y1="634.68" x2="427.56" y2="634.68" stroke="#444" stroke-width="0.85" />
<line x1="446.57" y1="631.89" x2="446.57" y2="637.87" stroke="#444" stroke-width="0.85" />
<line x1="444.37" y1="631.89" x2="448.77" y2="631.89" stroke="#444" stroke-width="0.85" />
<line x1="444.37" y1="637.87" x2="448.77" y2="637.87" stroke="#444" stroke-width="0.85" />
<line x1="467.78" y1="638.67" x2="467.78" y2="644.65" stroke="#444" stroke-width="0.85" />
<line x1="465.58" y1="638.67" x2="469.98" y2="638.67" stroke="#444" stroke-width="0.85" />
<line x1="465.58" y1="644.65" x2="469.98" y2="644.65" stroke="#444" stroke-width="0.85" />
<line x1="488.99" y1="640.67" x2="488.99" y2="648.64" stroke="#444" stroke-width="0.85" />
<line x1="486.79" y1="640.67" x2="491.19" y2="640.67" stroke="#444" stroke-width="0.85" />
<line x1="486.79" y1="648.64" x2="491.19" y2="648.64" stroke="#444" stroke-width="0.85" />
<circle cx="404.15" cy="621.22" r="2.2" fill="#111"/>
<circle cx="425.36" cy="633.69" r="2.2" fill="#111"/>
<circle cx="446.57" cy="634.88" r="2.2" fill="#111"/>
<circle cx="467.78" cy="641.66" r="2.2" fill="#111"/>
<circle cx="488.99" cy="644.65" r="2.2" fill="#111"/>
<text x="396.30" y="616.00" font-size="9.5" fill="#383838" textLength="10.60" lengthAdjust="spacingAndGlyphs" >****</text>
<line x1="454.40" y1="576.60" x2="464.50" y2="576.60" stroke="#111" stroke-width="0.9" />
<circle cx="459.00" cy="576.60" r="2" fill="#111"/>
<line x1="454.40" y1="586.10" x2="464.50" y2="586.10" stroke="#333" stroke-width="0.9" stroke-dasharray="1.5,1.2"/>
<rect x="457.10" y="584.20" width="3.80" height="3.80" fill="#111"/>
<text x="466.30" y="578.70" font-size="7.3" fill="#383838" textLength="30.00" lengthAdjust="spacingAndGlyphs" >Ctrl siRNA</text>
<text x="466.30" y="588.40" font-size="7.3" fill="#383838" textLength="39.40" lengthAdjust="spacingAndGlyphs" >SOX11 siRNA</text>
<rect x="0.5" y="0.5" width="519" height="694" fill="none" stroke="#5c5c5c" stroke-width="1"/>
</svg></body></html>
